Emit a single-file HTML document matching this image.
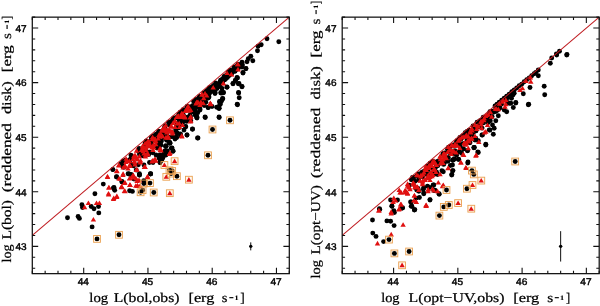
<!DOCTYPE html>
<html><head><meta charset="utf-8"><title>chart</title>
<style>html,body{margin:0;padding:0;background:#fff;width:600px;height:306px;overflow:hidden}body{position:relative;font-family:"Liberation Serif",serif}</style></head>
<body>
<svg width="600" height="306" viewBox="0 0 600 306" style="position:absolute;left:0;top:0;will-change:transform;text-rendering:geometricPrecision">
<rect width="600" height="306" fill="#fff"/>
<rect x="93.6" y="235.5" width="6.8" height="6.8" fill="#fff8ee"/>
<rect x="115.6" y="231.4" width="6.8" height="6.8" fill="#fff8ee"/>
<rect x="140.5" y="180.1" width="6.8" height="6.8" fill="#fff8ee"/>
<rect x="146.6" y="179.7" width="6.8" height="6.8" fill="#fff8ee"/>
<rect x="139.2" y="186.8" width="6.8" height="6.8" fill="#fff8ee"/>
<rect x="137.2" y="188.9" width="6.8" height="6.8" fill="#fff8ee"/>
<rect x="150.3" y="189.1" width="6.8" height="6.8" fill="#fff8ee"/>
<rect x="173.5" y="172.8" width="6.8" height="6.8" fill="#fff8ee"/>
<rect x="166.1" y="166.9" width="6.8" height="6.8" fill="#fff8ee"/>
<rect x="168.8" y="167.6" width="6.8" height="6.8" fill="#fff8ee"/>
<rect x="167.6" y="170.2" width="6.8" height="6.8" fill="#fff8ee"/>
<rect x="204.6" y="151.9" width="6.8" height="6.8" fill="#fff8ee"/>
<rect x="209.1" y="126.1" width="6.8" height="6.8" fill="#fff8ee"/>
<rect x="226.6" y="116.9" width="6.8" height="6.8" fill="#fff8ee"/>
<rect x="171.2" y="157.8" width="6.8" height="6.8" fill="#fff8ee"/>
<rect x="161.0" y="161.6" width="6.8" height="6.8" fill="#fff8ee"/>
<rect x="162.9" y="173.4" width="6.8" height="6.8" fill="#fff8ee"/>
<rect x="185.5" y="176.3" width="6.8" height="6.8" fill="#fff8ee"/>
<rect x="166.4" y="189.8" width="6.8" height="6.8" fill="#fff8ee"/>
<path d="M235.3 71.5L240.7 71.5L238.0 66.9Z" fill="#e01010"/>
<path d="M224.4 74.6L229.8 74.6L227.1 70.0Z" fill="#e01010"/>
<path d="M228.8 76.5L234.2 76.5L231.5 71.9Z" fill="#e01010"/>
<path d="M220.8 85.5L226.2 85.5L223.5 80.9Z" fill="#e01010"/>
<path d="M199.7 95.5L205.1 95.5L202.4 90.9Z" fill="#e01010"/>
<circle cx="125.7" cy="160.2" r="2.45" fill="#000"/>
<circle cx="130.9" cy="155.1" r="2.45" fill="#000"/>
<circle cx="130.7" cy="158.8" r="2.45" fill="#000"/>
<circle cx="123.8" cy="167.2" r="2.45" fill="#000"/>
<circle cx="122.8" cy="166.7" r="2.45" fill="#000"/>
<circle cx="121.1" cy="163.6" r="2.45" fill="#000"/>
<circle cx="133.4" cy="165.9" r="2.45" fill="#000"/>
<circle cx="122.7" cy="163.6" r="2.45" fill="#000"/>
<circle cx="138.3" cy="164.7" r="2.45" fill="#000"/>
<circle cx="131.7" cy="158.5" r="2.45" fill="#000"/>
<circle cx="151.4" cy="137.6" r="2.45" fill="#000"/>
<circle cx="151.1" cy="140.8" r="2.45" fill="#000"/>
<circle cx="139.2" cy="148.5" r="2.45" fill="#000"/>
<circle cx="148.7" cy="154.6" r="2.45" fill="#000"/>
<circle cx="143.8" cy="152.8" r="2.45" fill="#000"/>
<circle cx="148.5" cy="144.4" r="2.45" fill="#000"/>
<circle cx="145.1" cy="143.1" r="2.45" fill="#000"/>
<circle cx="138.5" cy="150.2" r="2.45" fill="#000"/>
<circle cx="149.7" cy="144.5" r="2.45" fill="#000"/>
<circle cx="145.9" cy="151.1" r="2.45" fill="#000"/>
<circle cx="145.1" cy="146.0" r="2.45" fill="#000"/>
<circle cx="154.4" cy="146.6" r="2.45" fill="#000"/>
<circle cx="144.7" cy="151.9" r="2.45" fill="#000"/>
<circle cx="152.7" cy="152.8" r="2.45" fill="#000"/>
<circle cx="149.2" cy="142.4" r="2.45" fill="#000"/>
<circle cx="151.8" cy="137.9" r="2.45" fill="#000"/>
<circle cx="149.5" cy="152.3" r="2.45" fill="#000"/>
<circle cx="142.4" cy="151.9" r="2.45" fill="#000"/>
<circle cx="142.7" cy="155.8" r="2.45" fill="#000"/>
<circle cx="152.5" cy="145.2" r="2.45" fill="#000"/>
<circle cx="151.6" cy="140.8" r="2.45" fill="#000"/>
<circle cx="151.7" cy="146.4" r="2.45" fill="#000"/>
<circle cx="166.2" cy="130.7" r="2.45" fill="#000"/>
<circle cx="177.0" cy="133.0" r="2.45" fill="#000"/>
<circle cx="166.2" cy="135.0" r="2.45" fill="#000"/>
<circle cx="158.4" cy="142.6" r="2.45" fill="#000"/>
<circle cx="173.8" cy="137.0" r="2.45" fill="#000"/>
<circle cx="169.5" cy="124.9" r="2.45" fill="#000"/>
<circle cx="164.5" cy="136.6" r="2.45" fill="#000"/>
<circle cx="155.1" cy="140.2" r="2.45" fill="#000"/>
<circle cx="155.4" cy="134.7" r="2.45" fill="#000"/>
<circle cx="159.1" cy="143.5" r="2.45" fill="#000"/>
<circle cx="155.4" cy="136.3" r="2.45" fill="#000"/>
<circle cx="167.1" cy="139.4" r="2.45" fill="#000"/>
<circle cx="156.1" cy="139.1" r="2.45" fill="#000"/>
<circle cx="170.4" cy="136.9" r="2.45" fill="#000"/>
<circle cx="175.6" cy="132.0" r="2.45" fill="#000"/>
<circle cx="159.7" cy="135.3" r="2.45" fill="#000"/>
<circle cx="166.6" cy="140.2" r="2.45" fill="#000"/>
<circle cx="171.4" cy="121.5" r="2.45" fill="#000"/>
<circle cx="156.2" cy="135.4" r="2.45" fill="#000"/>
<circle cx="159.5" cy="136.9" r="2.45" fill="#000"/>
<circle cx="164.7" cy="128.6" r="2.45" fill="#000"/>
<circle cx="154.3" cy="140.0" r="2.45" fill="#000"/>
<circle cx="163.0" cy="135.5" r="2.45" fill="#000"/>
<circle cx="176.1" cy="127.3" r="2.45" fill="#000"/>
<circle cx="166.5" cy="133.7" r="2.45" fill="#000"/>
<circle cx="165.3" cy="125.8" r="2.45" fill="#000"/>
<circle cx="176.1" cy="129.4" r="2.45" fill="#000"/>
<circle cx="175.8" cy="130.1" r="2.45" fill="#000"/>
<circle cx="161.9" cy="133.2" r="2.45" fill="#000"/>
<circle cx="158.5" cy="140.9" r="2.45" fill="#000"/>
<circle cx="153.1" cy="136.3" r="2.45" fill="#000"/>
<circle cx="156.5" cy="134.3" r="2.45" fill="#000"/>
<circle cx="158.6" cy="131.5" r="2.45" fill="#000"/>
<circle cx="152.2" cy="137.8" r="2.45" fill="#000"/>
<circle cx="155.8" cy="137.8" r="2.45" fill="#000"/>
<circle cx="159.8" cy="145.7" r="2.45" fill="#000"/>
<circle cx="164.5" cy="127.3" r="2.45" fill="#000"/>
<circle cx="158.6" cy="135.1" r="2.45" fill="#000"/>
<circle cx="159.4" cy="131.4" r="2.45" fill="#000"/>
<circle cx="177.9" cy="133.6" r="2.45" fill="#000"/>
<circle cx="183.5" cy="115.2" r="2.45" fill="#000"/>
<circle cx="173.6" cy="119.0" r="2.45" fill="#000"/>
<circle cx="179.5" cy="115.5" r="2.45" fill="#000"/>
<circle cx="188.7" cy="106.7" r="2.45" fill="#000"/>
<circle cx="179.0" cy="127.8" r="2.45" fill="#000"/>
<circle cx="182.7" cy="111.7" r="2.45" fill="#000"/>
<circle cx="182.6" cy="111.0" r="2.45" fill="#000"/>
<circle cx="189.4" cy="119.6" r="2.45" fill="#000"/>
<circle cx="193.2" cy="110.6" r="2.45" fill="#000"/>
<circle cx="178.5" cy="117.7" r="2.45" fill="#000"/>
<circle cx="180.0" cy="123.2" r="2.45" fill="#000"/>
<circle cx="187.4" cy="117.1" r="2.45" fill="#000"/>
<circle cx="179.1" cy="115.5" r="2.45" fill="#000"/>
<circle cx="195.1" cy="114.9" r="2.45" fill="#000"/>
<circle cx="194.1" cy="112.0" r="2.45" fill="#000"/>
<circle cx="192.7" cy="111.8" r="2.45" fill="#000"/>
<circle cx="179.0" cy="119.5" r="2.45" fill="#000"/>
<circle cx="178.8" cy="114.2" r="2.45" fill="#000"/>
<circle cx="173.3" cy="121.0" r="2.45" fill="#000"/>
<circle cx="181.1" cy="120.8" r="2.45" fill="#000"/>
<circle cx="193.0" cy="106.5" r="2.45" fill="#000"/>
<circle cx="197.7" cy="112.8" r="2.45" fill="#000"/>
<circle cx="192.4" cy="105.9" r="2.45" fill="#000"/>
<circle cx="176.9" cy="117.4" r="2.45" fill="#000"/>
<circle cx="176.3" cy="117.6" r="2.45" fill="#000"/>
<circle cx="190.5" cy="117.0" r="2.45" fill="#000"/>
<circle cx="190.9" cy="108.8" r="2.45" fill="#000"/>
<circle cx="190.0" cy="115.3" r="2.45" fill="#000"/>
<circle cx="177.3" cy="123.4" r="2.45" fill="#000"/>
<circle cx="195.0" cy="110.7" r="2.45" fill="#000"/>
<circle cx="189.1" cy="110.3" r="2.45" fill="#000"/>
<circle cx="180.4" cy="123.2" r="2.45" fill="#000"/>
<circle cx="183.6" cy="120.7" r="2.45" fill="#000"/>
<circle cx="193.0" cy="105.8" r="2.45" fill="#000"/>
<circle cx="186.5" cy="121.4" r="2.45" fill="#000"/>
<circle cx="186.7" cy="108.5" r="2.45" fill="#000"/>
<circle cx="174.7" cy="118.5" r="2.45" fill="#000"/>
<circle cx="195.1" cy="111.1" r="2.45" fill="#000"/>
<circle cx="180.1" cy="124.2" r="2.45" fill="#000"/>
<circle cx="195.2" cy="108.2" r="2.45" fill="#000"/>
<circle cx="199.1" cy="101.3" r="2.45" fill="#000"/>
<circle cx="193.7" cy="101.5" r="2.45" fill="#000"/>
<circle cx="209.1" cy="94.2" r="2.45" fill="#000"/>
<circle cx="204.5" cy="102.3" r="2.45" fill="#000"/>
<circle cx="202.6" cy="102.9" r="2.45" fill="#000"/>
<circle cx="204.6" cy="93.3" r="2.45" fill="#000"/>
<circle cx="196.3" cy="101.0" r="2.45" fill="#000"/>
<circle cx="197.7" cy="103.0" r="2.45" fill="#000"/>
<circle cx="197.0" cy="101.6" r="2.45" fill="#000"/>
<circle cx="198.4" cy="107.1" r="2.45" fill="#000"/>
<circle cx="198.7" cy="100.7" r="2.45" fill="#000"/>
<circle cx="205.1" cy="101.3" r="2.45" fill="#000"/>
<circle cx="202.8" cy="103.5" r="2.45" fill="#000"/>
<circle cx="201.3" cy="99.3" r="2.45" fill="#000"/>
<circle cx="199.5" cy="96.5" r="2.45" fill="#000"/>
<circle cx="198.7" cy="98.1" r="2.45" fill="#000"/>
<circle cx="195.6" cy="107.7" r="2.45" fill="#000"/>
<circle cx="196.0" cy="103.1" r="2.45" fill="#000"/>
<circle cx="204.8" cy="96.6" r="2.45" fill="#000"/>
<circle cx="198.6" cy="101.4" r="2.45" fill="#000"/>
<circle cx="203.8" cy="100.6" r="2.45" fill="#000"/>
<circle cx="195.6" cy="104.5" r="2.45" fill="#000"/>
<circle cx="196.2" cy="101.0" r="2.45" fill="#000"/>
<circle cx="205.2" cy="95.7" r="2.45" fill="#000"/>
<circle cx="226.8" cy="76.6" r="2.45" fill="#000"/>
<circle cx="237.4" cy="65.7" r="2.45" fill="#000"/>
<circle cx="227.7" cy="74.3" r="2.45" fill="#000"/>
<circle cx="225.0" cy="77.8" r="2.45" fill="#000"/>
<circle cx="222.5" cy="78.9" r="2.45" fill="#000"/>
<circle cx="224.8" cy="79.8" r="2.45" fill="#000"/>
<circle cx="231.8" cy="73.3" r="2.45" fill="#000"/>
<circle cx="238.0" cy="64.3" r="2.45" fill="#000"/>
<circle cx="227.4" cy="77.5" r="2.45" fill="#000"/>
<circle cx="234.4" cy="66.9" r="2.45" fill="#000"/>
<circle cx="211.3" cy="87.8" r="2.45" fill="#000"/>
<circle cx="209.3" cy="88.6" r="2.45" fill="#000"/>
<circle cx="210.4" cy="90.0" r="2.45" fill="#000"/>
<circle cx="234.7" cy="71.0" r="2.45" fill="#000"/>
<circle cx="213.3" cy="87.9" r="2.45" fill="#000"/>
<circle cx="228.5" cy="72.0" r="2.45" fill="#000"/>
<circle cx="238.2" cy="68.6" r="2.45" fill="#000"/>
<circle cx="216.3" cy="87.1" r="2.45" fill="#000"/>
<circle cx="220.6" cy="80.2" r="2.45" fill="#000"/>
<circle cx="241.2" cy="65.0" r="2.45" fill="#000"/>
<circle cx="212.6" cy="86.7" r="2.45" fill="#000"/>
<circle cx="224.1" cy="76.5" r="2.45" fill="#000"/>
<circle cx="213.5" cy="85.4" r="2.45" fill="#000"/>
<circle cx="230.4" cy="70.1" r="2.45" fill="#000"/>
<circle cx="225.6" cy="75.7" r="2.45" fill="#000"/>
<circle cx="207.7" cy="90.4" r="2.45" fill="#000"/>
<circle cx="228.1" cy="74.0" r="2.45" fill="#000"/>
<circle cx="211.3" cy="91.6" r="2.45" fill="#000"/>
<circle cx="235.1" cy="71.2" r="2.45" fill="#000"/>
<circle cx="210.4" cy="87.8" r="2.45" fill="#000"/>
<circle cx="209.7" cy="91.3" r="2.45" fill="#000"/>
<circle cx="215.6" cy="82.9" r="2.45" fill="#000"/>
<circle cx="222.8" cy="81.2" r="2.45" fill="#000"/>
<circle cx="233.9" cy="67.8" r="2.45" fill="#000"/>
<circle cx="213.8" cy="88.9" r="2.45" fill="#000"/>
<circle cx="226.9" cy="76.2" r="2.45" fill="#000"/>
<circle cx="209.5" cy="87.8" r="2.45" fill="#000"/>
<circle cx="230.0" cy="71.9" r="2.45" fill="#000"/>
<circle cx="211.4" cy="91.1" r="2.45" fill="#000"/>
<circle cx="229.4" cy="74.8" r="2.45" fill="#000"/>
<circle cx="67.5" cy="217.8" r="2.45" fill="#000"/>
<circle cx="78.1" cy="216.5" r="2.45" fill="#000"/>
<circle cx="79.4" cy="218.4" r="2.45" fill="#000"/>
<circle cx="81.9" cy="204.8" r="2.45" fill="#000"/>
<circle cx="82.5" cy="207.5" r="2.45" fill="#000"/>
<circle cx="91.2" cy="206.5" r="2.45" fill="#000"/>
<circle cx="94.0" cy="208.8" r="2.45" fill="#000"/>
<circle cx="98.5" cy="206.5" r="2.45" fill="#000"/>
<circle cx="98.8" cy="212.9" r="2.45" fill="#000"/>
<circle cx="92.1" cy="226.9" r="2.45" fill="#000"/>
<circle cx="94.9" cy="193.7" r="2.45" fill="#000"/>
<circle cx="103.3" cy="184.1" r="2.45" fill="#000"/>
<circle cx="113.4" cy="188.0" r="2.45" fill="#000"/>
<circle cx="114.7" cy="190.2" r="2.45" fill="#000"/>
<circle cx="129.6" cy="190.7" r="2.45" fill="#000"/>
<circle cx="132.4" cy="191.4" r="2.45" fill="#000"/>
<circle cx="112.9" cy="169.6" r="2.45" fill="#000"/>
<circle cx="116.6" cy="176.8" r="2.45" fill="#000"/>
<circle cx="121.9" cy="181.9" r="2.45" fill="#000"/>
<circle cx="128.1" cy="173.8" r="2.45" fill="#000"/>
<circle cx="131.0" cy="174.5" r="2.45" fill="#000"/>
<circle cx="139.4" cy="175.0" r="2.45" fill="#000"/>
<circle cx="150.6" cy="173.9" r="2.45" fill="#000"/>
<circle cx="136.2" cy="170.0" r="2.45" fill="#000"/>
<circle cx="170.0" cy="142.8" r="2.45" fill="#000"/>
<circle cx="166.2" cy="146.2" r="2.45" fill="#000"/>
<circle cx="171.9" cy="148.1" r="2.45" fill="#000"/>
<circle cx="173.1" cy="151.2" r="2.45" fill="#000"/>
<circle cx="163.8" cy="153.8" r="2.45" fill="#000"/>
<circle cx="160.6" cy="156.2" r="2.45" fill="#000"/>
<circle cx="160.0" cy="158.8" r="2.45" fill="#000"/>
<circle cx="160.0" cy="162.5" r="2.45" fill="#000"/>
<circle cx="163.0" cy="157.5" r="2.45" fill="#000"/>
<circle cx="150.6" cy="173.8" r="2.45" fill="#000"/>
<circle cx="139.4" cy="173.8" r="2.45" fill="#000"/>
<circle cx="167.5" cy="151.0" r="2.45" fill="#000"/>
<circle cx="166.0" cy="155.0" r="2.45" fill="#000"/>
<circle cx="237.5" cy="104.7" r="2.45" fill="#000"/>
<circle cx="219.2" cy="108.3" r="2.45" fill="#000"/>
<circle cx="219.2" cy="117.5" r="2.45" fill="#000"/>
<circle cx="205.3" cy="117.5" r="2.45" fill="#000"/>
<circle cx="196.7" cy="117.5" r="2.45" fill="#000"/>
<circle cx="192.5" cy="129.2" r="2.45" fill="#000"/>
<circle cx="197.5" cy="138.0" r="2.45" fill="#000"/>
<circle cx="187.0" cy="135.0" r="2.45" fill="#000"/>
<circle cx="185.8" cy="126.7" r="2.45" fill="#000"/>
<circle cx="180.8" cy="135.8" r="2.45" fill="#000"/>
<circle cx="176.7" cy="137.5" r="2.45" fill="#000"/>
<circle cx="170.0" cy="143.3" r="2.45" fill="#000"/>
<circle cx="165.8" cy="145.8" r="2.45" fill="#000"/>
<circle cx="171.3" cy="148.3" r="2.45" fill="#000"/>
<circle cx="208.3" cy="107.5" r="2.45" fill="#000"/>
<circle cx="200.0" cy="110.0" r="2.45" fill="#000"/>
<circle cx="195.0" cy="112.5" r="2.45" fill="#000"/>
<circle cx="220.0" cy="102.5" r="2.45" fill="#000"/>
<circle cx="221.7" cy="100.8" r="2.45" fill="#000"/>
<circle cx="190.8" cy="120.8" r="2.45" fill="#000"/>
<circle cx="278.8" cy="41.7" r="2.45" fill="#000"/>
<circle cx="267.0" cy="38.8" r="2.45" fill="#000"/>
<circle cx="261.2" cy="44.7" r="2.45" fill="#000"/>
<circle cx="258.1" cy="46.3" r="2.45" fill="#000"/>
<circle cx="257.5" cy="50.8" r="2.45" fill="#000"/>
<circle cx="250.8" cy="56.3" r="2.45" fill="#000"/>
<circle cx="248.3" cy="58.7" r="2.45" fill="#000"/>
<circle cx="252.8" cy="60.8" r="2.45" fill="#000"/>
<circle cx="247.0" cy="61.7" r="2.45" fill="#000"/>
<circle cx="242.0" cy="62.2" r="2.45" fill="#000"/>
<circle cx="242.5" cy="65.0" r="2.45" fill="#000"/>
<circle cx="240.0" cy="65.5" r="2.45" fill="#000"/>
<circle cx="245.8" cy="68.8" r="2.45" fill="#000"/>
<circle cx="243.0" cy="73.0" r="2.45" fill="#000"/>
<circle cx="237.5" cy="78.0" r="2.45" fill="#000"/>
<circle cx="235.3" cy="80.5" r="2.45" fill="#000"/>
<circle cx="233.0" cy="83.8" r="2.45" fill="#000"/>
<circle cx="238.3" cy="83.8" r="2.45" fill="#000"/>
<circle cx="242.0" cy="86.7" r="2.45" fill="#000"/>
<circle cx="238.7" cy="93.0" r="2.45" fill="#000"/>
<circle cx="239.2" cy="97.7" r="2.45" fill="#000"/>
<circle cx="237.2" cy="104.3" r="2.45" fill="#000"/>
<circle cx="227.0" cy="87.2" r="2.45" fill="#000"/>
<circle cx="223.3" cy="92.7" r="2.45" fill="#000"/>
<circle cx="220.8" cy="93.0" r="2.45" fill="#000"/>
<circle cx="215.0" cy="92.7" r="2.45" fill="#000"/>
<circle cx="222.8" cy="98.8" r="2.45" fill="#000"/>
<circle cx="220.0" cy="101.7" r="2.45" fill="#000"/>
<circle cx="219.7" cy="104.7" r="2.45" fill="#000"/>
<circle cx="216.7" cy="107.2" r="2.45" fill="#000"/>
<circle cx="235.0" cy="68.8" r="2.45" fill="#000"/>
<circle cx="231.7" cy="72.2" r="2.45" fill="#000"/>
<circle cx="229.2" cy="75.5" r="2.45" fill="#000"/>
<circle cx="225.8" cy="78.8" r="2.45" fill="#000"/>
<circle cx="222.5" cy="81.3" r="2.45" fill="#000"/>
<circle cx="219.2" cy="84.7" r="2.45" fill="#000"/>
<circle cx="216.7" cy="86.3" r="2.45" fill="#000"/>
<circle cx="213.3" cy="88.8" r="2.45" fill="#000"/>
<circle cx="210.0" cy="91.3" r="2.45" fill="#000"/>
<circle cx="207.5" cy="93.8" r="2.45" fill="#000"/>
<circle cx="208.3" cy="98.0" r="2.45" fill="#000"/>
<circle cx="205.8" cy="102.2" r="2.45" fill="#000"/>
<circle cx="204.2" cy="105.5" r="2.45" fill="#000"/>
<circle cx="112.8" cy="169.6" r="2.45" fill="#000"/>
<circle cx="116.5" cy="177.0" r="2.45" fill="#000"/>
<circle cx="114.0" cy="187.5" r="2.45" fill="#000"/>
<circle cx="129.0" cy="174.0" r="2.45" fill="#000"/>
<circle cx="131.5" cy="175.0" r="2.45" fill="#000"/>
<circle cx="139.5" cy="175.0" r="2.45" fill="#000"/>
<circle cx="150.5" cy="174.0" r="2.45" fill="#000"/>
<circle cx="122.0" cy="181.5" r="2.45" fill="#000"/>
<circle cx="134.0" cy="179.0" r="2.45" fill="#000"/>
<circle cx="149.5" cy="162.5" r="2.45" fill="#000"/>
<circle cx="153.0" cy="162.5" r="2.45" fill="#000"/>
<circle cx="160.0" cy="162.5" r="2.45" fill="#000"/>
<circle cx="144.0" cy="165.0" r="2.45" fill="#000"/>
<circle cx="132.0" cy="164.5" r="2.45" fill="#000"/>
<circle cx="146.3" cy="141.1" r="2.45" fill="#000"/>
<circle cx="153.0" cy="137.5" r="2.45" fill="#000"/>
<circle cx="169.5" cy="143.0" r="2.45" fill="#000"/>
<circle cx="165.5" cy="146.5" r="2.45" fill="#000"/>
<circle cx="172.0" cy="148.0" r="2.45" fill="#000"/>
<circle cx="173.0" cy="151.0" r="2.45" fill="#000"/>
<circle cx="158.0" cy="144.0" r="2.45" fill="#000"/>
<circle cx="161.0" cy="145.0" r="2.45" fill="#000"/>
<circle cx="157.0" cy="148.0" r="2.45" fill="#000"/>
<circle cx="165.0" cy="151.0" r="2.45" fill="#000"/>
<circle cx="167.0" cy="152.5" r="2.45" fill="#000"/>
<circle cx="160.0" cy="155.0" r="2.45" fill="#000"/>
<circle cx="163.0" cy="156.0" r="2.45" fill="#000"/>
<circle cx="159.0" cy="158.0" r="2.45" fill="#000"/>
<circle cx="162.0" cy="159.5" r="2.45" fill="#000"/>
<circle cx="156.0" cy="155.0" r="2.45" fill="#000"/>
<circle cx="160.0" cy="162.0" r="2.45" fill="#000"/>
<circle cx="138.5" cy="151.5" r="2.45" fill="#000"/>
<circle cx="139.5" cy="154.5" r="2.45" fill="#000"/>
<circle cx="130.0" cy="160.0" r="2.45" fill="#000"/>
<circle cx="123.0" cy="161.0" r="2.45" fill="#000"/>
<circle cx="175.0" cy="139.0" r="2.45" fill="#000"/>
<circle cx="164.0" cy="137.5" r="2.45" fill="#000"/>
<circle cx="197.0" cy="118.0" r="2.45" fill="#000"/>
<circle cx="192.5" cy="129.0" r="2.45" fill="#000"/>
<circle cx="198.0" cy="138.0" r="2.45" fill="#000"/>
<circle cx="187.0" cy="135.0" r="2.45" fill="#000"/>
<circle cx="185.5" cy="126.5" r="2.45" fill="#000"/>
<circle cx="184.0" cy="130.0" r="2.45" fill="#000"/>
<circle cx="183.0" cy="122.0" r="2.45" fill="#000"/>
<circle cx="180.5" cy="134.0" r="2.45" fill="#000"/>
<circle cx="176.0" cy="137.5" r="2.45" fill="#000"/>
<circle cx="169.5" cy="142.5" r="2.45" fill="#000"/>
<circle cx="168.7" cy="122.2" r="2.45" fill="#000"/>
<circle cx="153.0" cy="136.5" r="2.45" fill="#000"/>
<circle cx="146.5" cy="141.0" r="2.45" fill="#000"/>
<circle cx="164.0" cy="135.0" r="2.45" fill="#000"/>
<circle cx="161.5" cy="141.0" r="2.45" fill="#000"/>
<circle cx="173.0" cy="120.0" r="2.45" fill="#000"/>
<circle cx="187.0" cy="120.0" r="2.45" fill="#000"/>
<circle cx="207.0" cy="91.0" r="2.45" fill="#000"/>
<circle cx="211.0" cy="90.5" r="2.45" fill="#000"/>
<circle cx="215.0" cy="93.5" r="2.45" fill="#000"/>
<circle cx="222.0" cy="93.0" r="2.45" fill="#000"/>
<circle cx="209.0" cy="97.0" r="2.45" fill="#000"/>
<circle cx="222.5" cy="98.5" r="2.45" fill="#000"/>
<circle cx="219.5" cy="101.5" r="2.45" fill="#000"/>
<circle cx="220.5" cy="104.0" r="2.45" fill="#000"/>
<circle cx="219.0" cy="108.5" r="2.45" fill="#000"/>
<circle cx="212.0" cy="106.5" r="2.45" fill="#000"/>
<circle cx="208.0" cy="107.5" r="2.45" fill="#000"/>
<circle cx="205.0" cy="100.0" r="2.45" fill="#000"/>
<circle cx="200.0" cy="109.0" r="2.45" fill="#000"/>
<circle cx="196.0" cy="99.5" r="2.45" fill="#000"/>
<circle cx="194.0" cy="109.0" r="2.45" fill="#000"/>
<circle cx="192.0" cy="111.0" r="2.45" fill="#000"/>
<circle cx="197.0" cy="117.0" r="2.45" fill="#000"/>
<circle cx="205.0" cy="117.0" r="2.45" fill="#000"/>
<circle cx="219.0" cy="117.0" r="2.45" fill="#000"/>
<circle cx="183.2" cy="109.8" r="2.45" fill="#000"/>
<circle cx="187.1" cy="106.5" r="2.45" fill="#000"/>
<circle cx="180.3" cy="112.3" r="2.45" fill="#000"/>
<circle cx="173.7" cy="117.9" r="2.45" fill="#000"/>
<circle cx="246.0" cy="68.5" r="2.45" fill="#000"/>
<circle cx="243.0" cy="72.5" r="2.45" fill="#000"/>
<circle cx="242.0" cy="67.0" r="2.45" fill="#000"/>
<circle cx="234.0" cy="70.0" r="2.45" fill="#000"/>
<circle cx="237.0" cy="77.5" r="2.45" fill="#000"/>
<circle cx="235.5" cy="80.5" r="2.45" fill="#000"/>
<circle cx="233.0" cy="83.5" r="2.45" fill="#000"/>
<circle cx="239.0" cy="83.5" r="2.45" fill="#000"/>
<circle cx="242.0" cy="86.5" r="2.45" fill="#000"/>
<circle cx="227.0" cy="87.0" r="2.45" fill="#000"/>
<circle cx="238.5" cy="92.5" r="2.45" fill="#000"/>
<circle cx="223.5" cy="92.5" r="2.45" fill="#000"/>
<circle cx="221.0" cy="92.5" r="2.45" fill="#000"/>
<circle cx="215.0" cy="92.0" r="2.45" fill="#000"/>
<circle cx="232.0" cy="71.0" r="2.45" fill="#000"/>
<circle cx="230.0" cy="73.5" r="2.45" fill="#000"/>
<circle cx="228.0" cy="76.0" r="2.45" fill="#000"/>
<circle cx="226.0" cy="77.5" r="2.45" fill="#000"/>
<circle cx="224.0" cy="79.0" r="2.45" fill="#000"/>
<circle cx="222.0" cy="80.5" r="2.45" fill="#000"/>
<circle cx="220.0" cy="82.0" r="2.45" fill="#000"/>
<circle cx="218.0" cy="84.0" r="2.45" fill="#000"/>
<circle cx="216.0" cy="85.5" r="2.45" fill="#000"/>
<circle cx="214.0" cy="86.5" r="2.45" fill="#000"/>
<circle cx="212.0" cy="88.0" r="2.45" fill="#000"/>
<circle cx="210.0" cy="89.5" r="2.45" fill="#000"/>
<circle cx="208.0" cy="90.5" r="2.45" fill="#000"/>
<circle cx="206.0" cy="91.5" r="2.45" fill="#000"/>
<circle cx="204.0" cy="93.0" r="2.45" fill="#000"/>
<circle cx="220.0" cy="86.5" r="2.45" fill="#000"/>
<circle cx="217.0" cy="88.5" r="2.45" fill="#000"/>
<circle cx="222.0" cy="88.5" r="2.45" fill="#000"/>
<circle cx="143.8" cy="180.6" r="2.45" fill="#000"/>
<circle cx="97.0" cy="238.9" r="2.45" fill="#000"/>
<circle cx="119.0" cy="234.8" r="2.45" fill="#000"/>
<circle cx="143.9" cy="183.5" r="2.45" fill="#000"/>
<circle cx="150.0" cy="183.1" r="2.45" fill="#000"/>
<circle cx="142.6" cy="190.2" r="2.45" fill="#000"/>
<circle cx="140.6" cy="192.3" r="2.45" fill="#000"/>
<circle cx="153.8" cy="192.5" r="2.45" fill="#000"/>
<circle cx="176.9" cy="176.2" r="2.45" fill="#000"/>
<circle cx="169.5" cy="170.3" r="2.45" fill="#000"/>
<circle cx="172.2" cy="171.0" r="2.45" fill="#000"/>
<circle cx="171.0" cy="173.6" r="2.45" fill="#000"/>
<circle cx="208.0" cy="155.3" r="2.45" fill="#000"/>
<circle cx="212.5" cy="129.5" r="2.45" fill="#000"/>
<circle cx="230.0" cy="120.3" r="2.45" fill="#000"/>
<path d="M131.8 159.2L137.2 159.2L134.5 154.6Z" fill="#e01010"/>
<path d="M139.7 151.3L145.1 151.3L142.4 146.7Z" fill="#e01010"/>
<path d="M133.0 158.5L138.4 158.5L135.7 153.9Z" fill="#e01010"/>
<path d="M126.7 162.9L132.1 162.9L129.4 158.3Z" fill="#e01010"/>
<path d="M136.7 158.4L142.1 158.4L139.4 153.8Z" fill="#e01010"/>
<path d="M123.9 162.9L129.3 162.9L126.6 158.3Z" fill="#e01010"/>
<path d="M127.1 166.8L132.5 166.8L129.8 162.2Z" fill="#e01010"/>
<path d="M133.8 152.7L139.2 152.7L136.5 148.1Z" fill="#e01010"/>
<path d="M165.0 138.5L170.4 138.5L167.7 133.9Z" fill="#e01010"/>
<path d="M155.4 140.5L160.8 140.5L158.1 135.9Z" fill="#e01010"/>
<path d="M142.4 145.3L147.8 145.3L145.1 140.7Z" fill="#e01010"/>
<path d="M149.9 139.1L155.3 139.1L152.6 134.5Z" fill="#e01010"/>
<path d="M143.8 145.6L149.2 145.6L146.5 141.0Z" fill="#e01010"/>
<path d="M141.9 149.8L147.3 149.8L144.6 145.2Z" fill="#e01010"/>
<path d="M153.1 146.3L158.5 146.3L155.8 141.7Z" fill="#e01010"/>
<path d="M152.9 143.0L158.3 143.0L155.6 138.4Z" fill="#e01010"/>
<path d="M152.7 143.6L158.1 143.6L155.4 139.0Z" fill="#e01010"/>
<path d="M149.3 141.3L154.7 141.3L152.0 136.7Z" fill="#e01010"/>
<path d="M165.6 138.6L171.0 138.6L168.3 134.0Z" fill="#e01010"/>
<path d="M159.9 138.2L165.3 138.2L162.6 133.6Z" fill="#e01010"/>
<path d="M146.3 143.4L151.7 143.4L149.0 138.8Z" fill="#e01010"/>
<path d="M145.1 143.2L150.5 143.2L147.8 138.6Z" fill="#e01010"/>
<path d="M156.2 136.9L161.6 136.9L158.9 132.3Z" fill="#e01010"/>
<path d="M157.7 135.4L163.1 135.4L160.4 130.8Z" fill="#e01010"/>
<path d="M182.4 119.4L187.8 119.4L185.1 114.8Z" fill="#e01010"/>
<path d="M159.7 131.5L165.1 131.5L162.4 126.9Z" fill="#e01010"/>
<path d="M179.1 117.5L184.5 117.5L181.8 112.9Z" fill="#e01010"/>
<path d="M180.1 115.8L185.5 115.8L182.8 111.2Z" fill="#e01010"/>
<path d="M163.3 132.8L168.7 132.8L166.0 128.2Z" fill="#e01010"/>
<path d="M175.5 118.6L180.9 118.6L178.2 114.0Z" fill="#e01010"/>
<path d="M162.0 130.6L167.4 130.6L164.7 126.0Z" fill="#e01010"/>
<path d="M181.9 118.6L187.3 118.6L184.6 114.0Z" fill="#e01010"/>
<path d="M162.2 129.7L167.6 129.7L164.9 125.1Z" fill="#e01010"/>
<path d="M161.3 129.3L166.7 129.3L164.0 124.7Z" fill="#e01010"/>
<path d="M175.6 117.9L181.0 117.9L178.3 113.3Z" fill="#e01010"/>
<path d="M172.0 123.3L177.4 123.3L174.7 118.7Z" fill="#e01010"/>
<path d="M166.3 131.5L171.7 131.5L169.0 126.9Z" fill="#e01010"/>
<path d="M164.5 131.9L169.9 131.9L167.2 127.3Z" fill="#e01010"/>
<path d="M182.5 113.0L187.9 113.0L185.2 108.4Z" fill="#e01010"/>
<path d="M184.0 110.9L189.4 110.9L186.7 106.3Z" fill="#e01010"/>
<path d="M201.0 100.2L206.4 100.2L203.7 95.6Z" fill="#e01010"/>
<path d="M188.0 112.0L193.4 112.0L190.7 107.4Z" fill="#e01010"/>
<path d="M202.3 95.4L207.7 95.4L205.0 90.8Z" fill="#e01010"/>
<path d="M210.5 89.5L215.9 89.5L213.2 84.9Z" fill="#e01010"/>
<path d="M81.9 209.2L87.3 209.2L84.6 204.6Z" fill="#e01010"/>
<path d="M85.7 205.1L91.1 205.1L88.4 200.5Z" fill="#e01010"/>
<path d="M93.8 205.1L99.2 205.1L96.5 200.5Z" fill="#e01010"/>
<path d="M96.7 205.1L102.1 205.1L99.4 200.5Z" fill="#e01010"/>
<path d="M90.7 221.6L96.1 221.6L93.4 217.0Z" fill="#e01010"/>
<path d="M110.8 201.0L116.2 201.0L113.5 196.4Z" fill="#e01010"/>
<path d="M113.9 198.9L119.3 198.9L116.6 194.3Z" fill="#e01010"/>
<path d="M105.9 196.4L111.3 196.4L108.6 191.8Z" fill="#e01010"/>
<path d="M104.8 178.9L110.2 178.9L107.5 174.3Z" fill="#e01010"/>
<path d="M114.2 173.2L119.6 173.2L116.9 168.6Z" fill="#e01010"/>
<path d="M116.1 167.6L121.5 167.6L118.8 163.0Z" fill="#e01010"/>
<path d="M106.1 189.5L111.5 189.5L108.8 184.9Z" fill="#e01010"/>
<path d="M105.8 195.5L111.2 195.5L108.5 190.9Z" fill="#e01010"/>
<path d="M111.1 200.1L116.5 200.1L113.8 195.5Z" fill="#e01010"/>
<path d="M114.2 198.2L119.6 198.2L116.9 193.6Z" fill="#e01010"/>
<path d="M117.3 180.8L122.7 180.8L120.0 176.2Z" fill="#e01010"/>
<path d="M119.2 188.9L124.6 188.9L121.9 184.3Z" fill="#e01010"/>
<path d="M122.3 193.2L127.7 193.2L125.0 188.6Z" fill="#e01010"/>
<path d="M120.4 175.8L125.8 175.8L123.1 171.2Z" fill="#e01010"/>
<path d="M122.3 184.5L127.7 184.5L125.0 179.9Z" fill="#e01010"/>
<path d="M127.3 186.8L132.7 186.8L130.0 182.2Z" fill="#e01010"/>
<path d="M134.8 187.6L140.2 187.6L137.5 183.0Z" fill="#e01010"/>
<path d="M127.3 180.1L132.7 180.1L130.0 175.5Z" fill="#e01010"/>
<path d="M131.1 179.5L136.5 179.5L133.8 174.9Z" fill="#e01010"/>
<path d="M135.4 182.0L140.8 182.0L138.1 177.4Z" fill="#e01010"/>
<path d="M144.8 178.9L150.2 178.9L147.5 174.3Z" fill="#e01010"/>
<path d="M142.3 168.9L147.7 168.9L145.0 164.3Z" fill="#e01010"/>
<path d="M118.7 189.3L124.1 189.3L121.4 184.7Z" fill="#e01010"/>
<path d="M121.7 193.0L127.1 193.0L124.4 188.4Z" fill="#e01010"/>
<path d="M127.2 187.0L132.6 187.0L129.9 182.4Z" fill="#e01010"/>
<path d="M122.3 168.7L127.7 168.7L125.0 164.1Z" fill="#e01010"/>
<path d="M130.6 177.0L136.0 177.0L133.3 172.4Z" fill="#e01010"/>
<path d="M133.1 187.8L138.5 187.8L135.8 183.2Z" fill="#e01010"/>
<path d="M137.3 187.8L142.7 187.8L140.0 183.2Z" fill="#e01010"/>
<path d="M139.8 148.2L145.2 148.2L142.5 143.6Z" fill="#e01010"/>
<path d="M143.5 149.5L148.9 149.5L146.2 144.9Z" fill="#e01010"/>
<path d="M147.3 148.2L152.7 148.2L150.0 143.6Z" fill="#e01010"/>
<path d="M151.1 149.5L156.5 149.5L153.8 144.9Z" fill="#e01010"/>
<path d="M140.4 153.2L145.8 153.2L143.1 148.6Z" fill="#e01010"/>
<path d="M144.8 155.1L150.2 155.1L147.5 150.5Z" fill="#e01010"/>
<path d="M142.9 157.0L148.3 157.0L145.6 152.4Z" fill="#e01010"/>
<path d="M157.9 151.4L163.3 151.4L160.6 146.8Z" fill="#e01010"/>
<path d="M167.3 155.1L172.7 155.1L170.0 150.5Z" fill="#e01010"/>
<path d="M149.8 162.6L155.2 162.6L152.5 158.0Z" fill="#e01010"/>
<path d="M152.3 160.8L157.7 160.8L155.0 156.2Z" fill="#e01010"/>
<path d="M141.7 168.9L147.1 168.9L144.4 164.3Z" fill="#e01010"/>
<path d="M133.5 172.0L138.9 172.0L136.2 167.4Z" fill="#e01010"/>
<path d="M132.3 164.5L137.7 164.5L135.0 159.9Z" fill="#e01010"/>
<path d="M131.1 158.2L136.5 158.2L133.8 153.6Z" fill="#e01010"/>
<path d="M137.9 162.6L143.3 162.6L140.6 158.0Z" fill="#e01010"/>
<path d="M134.8 161.4L140.2 161.4L137.5 156.8Z" fill="#e01010"/>
<path d="M208.1 106.2L213.5 106.2L210.8 101.6Z" fill="#e01010"/>
<path d="M200.6 105.3L206.0 105.3L203.3 100.7Z" fill="#e01010"/>
<path d="M194.8 104.5L200.2 104.5L197.5 99.9Z" fill="#e01010"/>
<path d="M197.3 107.0L202.7 107.0L200.0 102.4Z" fill="#e01010"/>
<path d="M184.8 109.5L190.2 109.5L187.5 104.9Z" fill="#e01010"/>
<path d="M186.5 112.8L191.9 112.8L189.2 108.2Z" fill="#e01010"/>
<path d="M188.1 118.7L193.5 118.7L190.8 114.1Z" fill="#e01010"/>
<path d="M188.1 122.8L193.5 122.8L190.8 118.2Z" fill="#e01010"/>
<path d="M179.0 115.3L184.4 115.3L181.7 110.7Z" fill="#e01010"/>
<path d="M175.6 118.7L181.0 118.7L178.3 114.1Z" fill="#e01010"/>
<path d="M172.3 122.8L177.7 122.8L175.0 118.2Z" fill="#e01010"/>
<path d="M176.5 125.3L181.9 125.3L179.2 120.7Z" fill="#e01010"/>
<path d="M179.8 127.0L185.2 127.0L182.5 122.4Z" fill="#e01010"/>
<path d="M169.0 128.7L174.4 128.7L171.7 124.1Z" fill="#e01010"/>
<path d="M168.1 133.7L173.5 133.7L170.8 129.1Z" fill="#e01010"/>
<path d="M164.0 134.5L169.4 134.5L166.7 129.9Z" fill="#e01010"/>
<path d="M160.6 132.8L166.0 132.8L163.3 128.2Z" fill="#e01010"/>
<path d="M157.3 137.0L162.7 137.0L160.0 132.4Z" fill="#e01010"/>
<path d="M163.1 139.5L168.5 139.5L165.8 134.9Z" fill="#e01010"/>
<path d="M179.0 137.8L184.4 137.8L181.7 133.2Z" fill="#e01010"/>
<path d="M152.3 141.2L157.7 141.2L155.0 136.6Z" fill="#e01010"/>
<path d="M150.6 147.0L156.0 147.0L153.3 142.4Z" fill="#e01010"/>
<path d="M157.3 150.3L162.7 150.3L160.0 145.7Z" fill="#e01010"/>
<path d="M156.5 138.3L161.9 138.3L159.2 133.7Z" fill="#e01010"/>
<path d="M165.6 139.5L171.0 139.5L168.3 134.9Z" fill="#e01010"/>
<path d="M169.8 133.7L175.2 133.7L172.5 129.1Z" fill="#e01010"/>
<path d="M167.0 155.0L172.4 155.0L169.7 150.4Z" fill="#e01010"/>
<path d="M157.6 152.0L163.0 152.0L160.3 147.4Z" fill="#e01010"/>
<path d="M153.1 162.8L158.5 162.8L155.8 158.2Z" fill="#e01010"/>
<path d="M234.9 66.3L240.3 66.3L237.6 61.7Z" fill="#e01010"/>
<path d="M235.3 66.3L240.7 66.3L238.0 61.7Z" fill="#e01010"/>
<path d="M235.3 71.3L240.7 71.3L238.0 66.7Z" fill="#e01010"/>
<path d="M224.4 75.1L229.8 75.1L227.1 70.5Z" fill="#e01010"/>
<path d="M228.6 76.3L234.0 76.3L231.3 71.7Z" fill="#e01010"/>
<path d="M220.6 85.3L226.0 85.3L223.3 80.7Z" fill="#e01010"/>
<path d="M199.4 96.4L204.8 96.4L202.1 91.8Z" fill="#e01010"/>
<path d="M204.0 97.5L209.4 97.5L206.7 92.9Z" fill="#e01010"/>
<path d="M194.0 104.2L199.4 104.2L196.7 99.6Z" fill="#e01010"/>
<path d="M198.1 104.2L203.5 104.2L200.8 99.6Z" fill="#e01010"/>
<path d="M207.6 105.0L213.0 105.0L210.3 100.4Z" fill="#e01010"/>
<path d="M116.2 167.0L121.6 167.0L118.9 162.4Z" fill="#e01010"/>
<path d="M114.1 173.0L119.5 173.0L116.8 168.4Z" fill="#e01010"/>
<path d="M104.8 178.5L110.2 178.5L107.5 173.9Z" fill="#e01010"/>
<path d="M120.5 169.5L125.9 169.5L123.2 164.9Z" fill="#e01010"/>
<path d="M122.3 167.5L127.7 167.5L125.0 162.9Z" fill="#e01010"/>
<path d="M123.3 164.0L128.7 164.0L126.0 159.4Z" fill="#e01010"/>
<path d="M125.3 170.5L130.7 170.5L128.0 165.9Z" fill="#e01010"/>
<path d="M127.3 168.0L132.7 168.0L130.0 163.4Z" fill="#e01010"/>
<path d="M132.3 166.5L137.7 166.5L135.0 161.9Z" fill="#e01010"/>
<path d="M131.3 163.5L136.7 163.5L134.0 158.9Z" fill="#e01010"/>
<path d="M134.3 171.5L139.7 171.5L137.0 166.9Z" fill="#e01010"/>
<path d="M137.8 164.5L143.2 164.5L140.5 159.9Z" fill="#e01010"/>
<path d="M142.3 169.0L147.7 169.0L145.0 164.4Z" fill="#e01010"/>
<path d="M120.3 177.0L125.7 177.0L123.0 172.4Z" fill="#e01010"/>
<path d="M116.3 180.5L121.7 180.5L119.0 175.9Z" fill="#e01010"/>
<path d="M121.8 185.0L127.2 185.0L124.5 180.4Z" fill="#e01010"/>
<path d="M126.8 180.5L132.2 180.5L129.5 175.9Z" fill="#e01010"/>
<path d="M129.8 178.0L135.2 178.0L132.5 173.4Z" fill="#e01010"/>
<path d="M133.3 180.5L138.7 180.5L136.0 175.9Z" fill="#e01010"/>
<path d="M134.3 183.0L139.7 183.0L137.0 178.4Z" fill="#e01010"/>
<path d="M136.8 182.5L142.2 182.5L139.5 177.9Z" fill="#e01010"/>
<path d="M127.3 187.0L132.7 187.0L130.0 182.4Z" fill="#e01010"/>
<path d="M134.8 187.8L140.2 187.8L137.5 183.2Z" fill="#e01010"/>
<path d="M118.8 188.5L124.2 188.5L121.5 183.9Z" fill="#e01010"/>
<path d="M106.3 189.5L111.7 189.5L109.0 184.9Z" fill="#e01010"/>
<path d="M144.8 178.5L150.2 178.5L147.5 173.9Z" fill="#e01010"/>
<path d="M123.4 160.8L128.8 160.8L126.1 156.2Z" fill="#e01010"/>
<path d="M124.3 162.5L129.7 162.5L127.0 157.9Z" fill="#e01010"/>
<path d="M132.3 157.0L137.7 157.0L135.0 152.4Z" fill="#e01010"/>
<path d="M130.3 161.0L135.7 161.0L133.0 156.4Z" fill="#e01010"/>
<path d="M134.3 160.5L139.7 160.5L137.0 155.9Z" fill="#e01010"/>
<path d="M137.3 163.5L142.7 163.5L140.0 158.9Z" fill="#e01010"/>
<path d="M140.3 149.0L145.7 149.0L143.0 144.4Z" fill="#e01010"/>
<path d="M138.8 152.0L144.2 152.0L141.5 147.4Z" fill="#e01010"/>
<path d="M144.3 148.0L149.7 148.0L147.0 143.4Z" fill="#e01010"/>
<path d="M147.3 146.5L152.7 146.5L150.0 141.9Z" fill="#e01010"/>
<path d="M149.3 149.5L154.7 149.5L152.0 144.9Z" fill="#e01010"/>
<path d="M143.3 152.0L148.7 152.0L146.0 147.4Z" fill="#e01010"/>
<path d="M141.3 155.5L146.7 155.5L144.0 150.9Z" fill="#e01010"/>
<path d="M145.3 156.5L150.7 156.5L148.0 151.9Z" fill="#e01010"/>
<path d="M142.8 158.5L148.2 158.5L145.5 153.9Z" fill="#e01010"/>
<path d="M150.3 152.0L155.7 152.0L153.0 147.4Z" fill="#e01010"/>
<path d="M152.3 141.5L157.7 141.5L155.0 136.9Z" fill="#e01010"/>
<path d="M157.3 138.5L162.7 138.5L160.0 133.9Z" fill="#e01010"/>
<path d="M165.3 139.5L170.7 139.5L168.0 134.9Z" fill="#e01010"/>
<path d="M158.3 152.5L163.7 152.5L161.0 147.9Z" fill="#e01010"/>
<path d="M166.8 156.0L172.2 156.0L169.5 151.4Z" fill="#e01010"/>
<path d="M151.3 162.5L156.7 162.5L154.0 157.9Z" fill="#e01010"/>
<path d="M149.3 163.5L154.7 163.5L152.0 158.9Z" fill="#e01010"/>
<path d="M173.8 119.0L179.2 119.0L176.5 114.4Z" fill="#e01010"/>
<path d="M178.3 118.5L183.7 118.5L181.0 113.9Z" fill="#e01010"/>
<path d="M187.8 119.5L193.2 119.5L190.5 114.9Z" fill="#e01010"/>
<path d="M187.8 123.5L193.2 123.5L190.5 118.9Z" fill="#e01010"/>
<path d="M170.3 125.0L175.7 125.0L173.0 120.4Z" fill="#e01010"/>
<path d="M174.3 125.5L179.7 125.5L177.0 120.9Z" fill="#e01010"/>
<path d="M176.8 129.0L182.2 129.0L179.5 124.4Z" fill="#e01010"/>
<path d="M172.3 129.0L177.7 129.0L175.0 124.4Z" fill="#e01010"/>
<path d="M163.0 127.3L168.4 127.3L165.7 122.7Z" fill="#e01010"/>
<path d="M168.3 128.0L173.7 128.0L171.0 123.4Z" fill="#e01010"/>
<path d="M159.3 132.0L164.7 132.0L162.0 127.4Z" fill="#e01010"/>
<path d="M162.3 132.0L167.7 132.0L165.0 127.4Z" fill="#e01010"/>
<path d="M168.3 133.0L173.7 133.0L171.0 128.4Z" fill="#e01010"/>
<path d="M169.8 135.5L175.2 135.5L172.5 130.9Z" fill="#e01010"/>
<path d="M156.8 137.5L162.2 137.5L159.5 132.9Z" fill="#e01010"/>
<path d="M164.3 139.5L169.7 139.5L167.0 134.9Z" fill="#e01010"/>
<path d="M152.3 141.0L157.7 141.0L155.0 136.4Z" fill="#e01010"/>
<path d="M179.3 138.5L184.7 138.5L182.0 133.9Z" fill="#e01010"/>
<path d="M145.3 146.0L150.7 146.0L148.0 141.4Z" fill="#e01010"/>
<path d="M199.3 96.5L204.7 96.5L202.0 91.9Z" fill="#e01010"/>
<path d="M195.3 104.0L200.7 104.0L198.0 99.4Z" fill="#e01010"/>
<path d="M198.8 105.0L204.2 105.0L201.5 100.4Z" fill="#e01010"/>
<path d="M193.3 105.5L198.7 105.5L196.0 100.9Z" fill="#e01010"/>
<path d="M207.8 105.5L213.2 105.5L210.5 100.9Z" fill="#e01010"/>
<path d="M185.5 108.2L190.9 108.2L188.2 103.6Z" fill="#e01010"/>
<path d="M185.8 112.0L191.2 112.0L188.5 107.4Z" fill="#e01010"/>
<path d="M175.3 118.0L180.7 118.0L178.0 113.4Z" fill="#e01010"/>
<path d="M178.3 119.0L183.7 119.0L181.0 114.4Z" fill="#e01010"/>
<path d="M187.8 119.0L193.2 119.0L190.5 114.4Z" fill="#e01010"/>
<path d="M171.9 163.2L177.3 163.2L174.6 158.6Z" fill="#e01010"/>
<path d="M161.7 167.0L167.1 167.0L164.4 162.4Z" fill="#e01010"/>
<path d="M163.6 178.8L169.0 178.8L166.3 174.2Z" fill="#e01010"/>
<path d="M186.2 181.7L191.6 181.7L188.9 177.1Z" fill="#e01010"/>
<path d="M167.1 195.2L172.5 195.2L169.8 190.6Z" fill="#e01010"/>
<rect x="93.6" y="235.5" width="6.8" height="6.8" fill="none" stroke="#eaa050" stroke-width="0.9"/>
<rect x="115.6" y="231.4" width="6.8" height="6.8" fill="none" stroke="#eaa050" stroke-width="0.9"/>
<rect x="140.5" y="180.1" width="6.8" height="6.8" fill="none" stroke="#eaa050" stroke-width="0.9"/>
<rect x="146.6" y="179.7" width="6.8" height="6.8" fill="none" stroke="#eaa050" stroke-width="0.9"/>
<rect x="139.2" y="186.8" width="6.8" height="6.8" fill="none" stroke="#eaa050" stroke-width="0.9"/>
<rect x="137.2" y="188.9" width="6.8" height="6.8" fill="none" stroke="#eaa050" stroke-width="0.9"/>
<rect x="150.3" y="189.1" width="6.8" height="6.8" fill="none" stroke="#eaa050" stroke-width="0.9"/>
<rect x="173.5" y="172.8" width="6.8" height="6.8" fill="none" stroke="#eaa050" stroke-width="0.9"/>
<rect x="166.1" y="166.9" width="6.8" height="6.8" fill="none" stroke="#eaa050" stroke-width="0.9"/>
<rect x="168.8" y="167.6" width="6.8" height="6.8" fill="none" stroke="#eaa050" stroke-width="0.9"/>
<rect x="167.6" y="170.2" width="6.8" height="6.8" fill="none" stroke="#eaa050" stroke-width="0.9"/>
<rect x="204.6" y="151.9" width="6.8" height="6.8" fill="none" stroke="#eaa050" stroke-width="0.9"/>
<rect x="209.1" y="126.1" width="6.8" height="6.8" fill="none" stroke="#eaa050" stroke-width="0.9"/>
<rect x="226.6" y="116.9" width="6.8" height="6.8" fill="none" stroke="#eaa050" stroke-width="0.9"/>
<rect x="171.2" y="157.8" width="6.8" height="6.8" fill="none" stroke="#eaa050" stroke-width="0.9"/>
<rect x="161.0" y="161.6" width="6.8" height="6.8" fill="none" stroke="#eaa050" stroke-width="0.9"/>
<rect x="162.9" y="173.4" width="6.8" height="6.8" fill="none" stroke="#eaa050" stroke-width="0.9"/>
<rect x="185.5" y="176.3" width="6.8" height="6.8" fill="none" stroke="#eaa050" stroke-width="0.9"/>
<rect x="166.4" y="189.8" width="6.8" height="6.8" fill="none" stroke="#eaa050" stroke-width="0.9"/>
<line x1="32.30" y1="235.45" x2="289.30" y2="17.15" stroke="#bf1a1f" stroke-width="1.05"/>
<line x1="250.75" y1="242.36" x2="250.75" y2="250.36" stroke="#000" stroke-width="0.95"/>
<circle cx="250.75" cy="246.36" r="1.7" fill="#000"/>
<rect x="32.30" y="17.15" width="257.00" height="256.5" fill="none" stroke="#111" stroke-width="1.25"/>
<path d="M32.30 273.65v-2.9M32.30 17.15v2.9M45.15 273.65v-2.9M45.15 17.15v2.9M58.00 273.65v-2.9M58.00 17.15v2.9M70.85 273.65v-2.9M70.85 17.15v2.9M83.70 273.65v-5.9M83.70 17.15v5.9M96.55 273.65v-2.9M96.55 17.15v2.9M109.40 273.65v-2.9M109.40 17.15v2.9M122.25 273.65v-2.9M122.25 17.15v2.9M135.10 273.65v-2.9M135.10 17.15v2.9M147.95 273.65v-5.9M147.95 17.15v5.9M160.80 273.65v-2.9M160.80 17.15v2.9M173.65 273.65v-2.9M173.65 17.15v2.9M186.50 273.65v-2.9M186.50 17.15v2.9M199.35 273.65v-2.9M199.35 17.15v2.9M212.20 273.65v-5.9M212.20 17.15v5.9M225.05 273.65v-2.9M225.05 17.15v2.9M237.90 273.65v-2.9M237.90 17.15v2.9M250.75 273.65v-2.9M250.75 17.15v2.9M263.60 273.65v-2.9M263.60 17.15v2.9M276.45 273.65v-5.9M276.45 17.15v5.9M289.30 273.65v-2.9M289.30 17.15v2.9M32.30 268.19h2.9M289.30 268.19h-2.9M32.30 257.28h2.9M289.30 257.28h-2.9M32.30 246.36h5.9M289.30 246.36h-5.9M32.30 235.45h2.9M289.30 235.45h-2.9M32.30 224.53h2.9M289.30 224.53h-2.9M32.30 213.62h2.9M289.30 213.62h-2.9M32.30 202.70h2.9M289.30 202.70h-2.9M32.30 191.79h5.9M289.30 191.79h-5.9M32.30 180.87h2.9M289.30 180.87h-2.9M32.30 169.96h2.9M289.30 169.96h-2.9M32.30 159.04h2.9M289.30 159.04h-2.9M32.30 148.13h2.9M289.30 148.13h-2.9M32.30 137.21h5.9M289.30 137.21h-5.9M32.30 126.30h2.9M289.30 126.30h-2.9M32.30 115.38h2.9M289.30 115.38h-2.9M32.30 104.47h2.9M289.30 104.47h-2.9M32.30 93.55h2.9M289.30 93.55h-2.9M32.30 82.64h5.9M289.30 82.64h-5.9M32.30 71.72h2.9M289.30 71.72h-2.9M32.30 60.81h2.9M289.30 60.81h-2.9M32.30 49.89h2.9M289.30 49.89h-2.9M32.30 38.98h2.9M289.30 38.98h-2.9M32.30 28.06h5.9M289.30 28.06h-5.9M32.30 17.15h2.9M289.30 17.15h-2.9" stroke="#111" stroke-width="1.1" fill="none"/>
<text x="77.65" y="285.3" font-size="9.8" textLength="11.3" lengthAdjust="spacingAndGlyphs" stroke="#000" stroke-width="0.4" font-family="Liberation Sans, sans-serif">44</text>
<text x="141.90" y="285.3" font-size="9.8" textLength="11.3" lengthAdjust="spacingAndGlyphs" stroke="#000" stroke-width="0.4" font-family="Liberation Sans, sans-serif">45</text>
<text x="206.15" y="285.3" font-size="9.8" textLength="11.3" lengthAdjust="spacingAndGlyphs" stroke="#000" stroke-width="0.4" font-family="Liberation Sans, sans-serif">46</text>
<text x="270.40" y="285.3" font-size="9.8" textLength="11.3" lengthAdjust="spacingAndGlyphs" stroke="#000" stroke-width="0.4" font-family="Liberation Sans, sans-serif">47</text>
<text x="15.40" y="250.16" font-size="9.8" textLength="11.2" lengthAdjust="spacingAndGlyphs" stroke="#000" stroke-width="0.4" font-family="Liberation Sans, sans-serif">43</text>
<text x="15.40" y="195.59" font-size="9.8" textLength="11.2" lengthAdjust="spacingAndGlyphs" stroke="#000" stroke-width="0.4" font-family="Liberation Sans, sans-serif">44</text>
<text x="15.40" y="141.01" font-size="9.8" textLength="11.2" lengthAdjust="spacingAndGlyphs" stroke="#000" stroke-width="0.4" font-family="Liberation Sans, sans-serif">45</text>
<text x="15.40" y="86.44" font-size="9.8" textLength="11.2" lengthAdjust="spacingAndGlyphs" stroke="#000" stroke-width="0.4" font-family="Liberation Sans, sans-serif">46</text>
<text x="15.40" y="31.86" font-size="9.8" textLength="11.2" lengthAdjust="spacingAndGlyphs" stroke="#000" stroke-width="0.4" font-family="Liberation Sans, sans-serif">47</text>
<rect x="385.6" y="236.2" width="6.8" height="6.8" fill="#fff8ee"/>
<rect x="391.0" y="250.0" width="6.8" height="6.8" fill="#fff8ee"/>
<rect x="405.7" y="248.1" width="6.8" height="6.8" fill="#fff8ee"/>
<rect x="443.1" y="186.6" width="6.8" height="6.8" fill="#fff8ee"/>
<rect x="463.5" y="185.3" width="6.8" height="6.8" fill="#fff8ee"/>
<rect x="440.4" y="203.5" width="6.8" height="6.8" fill="#fff8ee"/>
<rect x="445.4" y="201.6" width="6.8" height="6.8" fill="#fff8ee"/>
<rect x="436.0" y="212.2" width="6.8" height="6.8" fill="#fff8ee"/>
<rect x="468.5" y="167.2" width="6.8" height="6.8" fill="#fff8ee"/>
<rect x="470.4" y="171.0" width="6.8" height="6.8" fill="#fff8ee"/>
<rect x="511.8" y="158.1" width="6.8" height="6.8" fill="#fff8ee"/>
<rect x="398.7" y="261.9" width="6.8" height="6.8" fill="#fff8ee"/>
<rect x="454.7" y="199.7" width="6.8" height="6.8" fill="#fff8ee"/>
<rect x="467.9" y="205.3" width="6.8" height="6.8" fill="#fff8ee"/>
<rect x="469.1" y="181.6" width="6.8" height="6.8" fill="#fff8ee"/>
<rect x="477.9" y="177.2" width="6.8" height="6.8" fill="#fff8ee"/>
<circle cx="415.6" cy="187.7" r="2.45" fill="#000"/>
<circle cx="422.6" cy="176.8" r="2.45" fill="#000"/>
<circle cx="418.0" cy="188.4" r="2.45" fill="#000"/>
<circle cx="426.4" cy="174.3" r="2.45" fill="#000"/>
<circle cx="417.8" cy="176.5" r="2.45" fill="#000"/>
<circle cx="408.9" cy="186.3" r="2.45" fill="#000"/>
<circle cx="418.4" cy="173.9" r="2.45" fill="#000"/>
<circle cx="423.6" cy="171.5" r="2.45" fill="#000"/>
<circle cx="411.3" cy="179.8" r="2.45" fill="#000"/>
<circle cx="432.9" cy="174.3" r="2.45" fill="#000"/>
<circle cx="428.9" cy="174.6" r="2.45" fill="#000"/>
<circle cx="409.1" cy="185.3" r="2.45" fill="#000"/>
<circle cx="416.9" cy="175.7" r="2.45" fill="#000"/>
<circle cx="427.8" cy="170.2" r="2.45" fill="#000"/>
<circle cx="436.6" cy="172.2" r="2.45" fill="#000"/>
<circle cx="437.5" cy="174.5" r="2.45" fill="#000"/>
<circle cx="439.3" cy="163.4" r="2.45" fill="#000"/>
<circle cx="436.4" cy="164.4" r="2.45" fill="#000"/>
<circle cx="430.1" cy="163.3" r="2.45" fill="#000"/>
<circle cx="444.7" cy="153.0" r="2.45" fill="#000"/>
<circle cx="442.8" cy="154.2" r="2.45" fill="#000"/>
<circle cx="453.9" cy="159.6" r="2.45" fill="#000"/>
<circle cx="447.9" cy="161.2" r="2.45" fill="#000"/>
<circle cx="444.0" cy="163.7" r="2.45" fill="#000"/>
<circle cx="431.9" cy="168.1" r="2.45" fill="#000"/>
<circle cx="443.7" cy="153.4" r="2.45" fill="#000"/>
<circle cx="452.9" cy="160.3" r="2.45" fill="#000"/>
<circle cx="436.6" cy="162.0" r="2.45" fill="#000"/>
<circle cx="437.6" cy="161.5" r="2.45" fill="#000"/>
<circle cx="448.5" cy="152.2" r="2.45" fill="#000"/>
<circle cx="427.1" cy="166.3" r="2.45" fill="#000"/>
<circle cx="450.3" cy="165.5" r="2.45" fill="#000"/>
<circle cx="439.6" cy="161.9" r="2.45" fill="#000"/>
<circle cx="443.6" cy="164.4" r="2.45" fill="#000"/>
<circle cx="435.3" cy="168.0" r="2.45" fill="#000"/>
<circle cx="442.2" cy="162.6" r="2.45" fill="#000"/>
<circle cx="430.6" cy="164.1" r="2.45" fill="#000"/>
<circle cx="441.9" cy="170.7" r="2.45" fill="#000"/>
<circle cx="437.7" cy="165.8" r="2.45" fill="#000"/>
<circle cx="432.7" cy="161.6" r="2.45" fill="#000"/>
<circle cx="434.7" cy="173.7" r="2.45" fill="#000"/>
<circle cx="444.1" cy="155.8" r="2.45" fill="#000"/>
<circle cx="467.2" cy="139.4" r="2.45" fill="#000"/>
<circle cx="475.4" cy="138.2" r="2.45" fill="#000"/>
<circle cx="463.5" cy="149.0" r="2.45" fill="#000"/>
<circle cx="473.4" cy="132.6" r="2.45" fill="#000"/>
<circle cx="470.7" cy="133.4" r="2.45" fill="#000"/>
<circle cx="456.3" cy="142.2" r="2.45" fill="#000"/>
<circle cx="468.4" cy="131.1" r="2.45" fill="#000"/>
<circle cx="453.1" cy="153.9" r="2.45" fill="#000"/>
<circle cx="467.9" cy="135.6" r="2.45" fill="#000"/>
<circle cx="467.0" cy="131.4" r="2.45" fill="#000"/>
<circle cx="453.6" cy="145.0" r="2.45" fill="#000"/>
<circle cx="457.0" cy="140.8" r="2.45" fill="#000"/>
<circle cx="449.2" cy="149.3" r="2.45" fill="#000"/>
<circle cx="475.7" cy="138.5" r="2.45" fill="#000"/>
<circle cx="467.1" cy="136.2" r="2.45" fill="#000"/>
<circle cx="459.3" cy="151.9" r="2.45" fill="#000"/>
<circle cx="463.8" cy="143.4" r="2.45" fill="#000"/>
<circle cx="447.5" cy="149.4" r="2.45" fill="#000"/>
<circle cx="472.2" cy="137.5" r="2.45" fill="#000"/>
<circle cx="471.5" cy="134.5" r="2.45" fill="#000"/>
<circle cx="460.0" cy="143.9" r="2.45" fill="#000"/>
<circle cx="468.5" cy="132.6" r="2.45" fill="#000"/>
<circle cx="460.5" cy="139.0" r="2.45" fill="#000"/>
<circle cx="465.2" cy="132.8" r="2.45" fill="#000"/>
<circle cx="470.0" cy="142.7" r="2.45" fill="#000"/>
<circle cx="450.0" cy="152.6" r="2.45" fill="#000"/>
<circle cx="467.9" cy="142.3" r="2.45" fill="#000"/>
<circle cx="461.6" cy="137.8" r="2.45" fill="#000"/>
<circle cx="463.1" cy="148.7" r="2.45" fill="#000"/>
<circle cx="469.0" cy="130.3" r="2.45" fill="#000"/>
<circle cx="448.6" cy="147.3" r="2.45" fill="#000"/>
<circle cx="448.9" cy="151.2" r="2.45" fill="#000"/>
<circle cx="455.5" cy="153.1" r="2.45" fill="#000"/>
<circle cx="462.8" cy="135.6" r="2.45" fill="#000"/>
<circle cx="460.9" cy="139.3" r="2.45" fill="#000"/>
<circle cx="459.1" cy="139.5" r="2.45" fill="#000"/>
<circle cx="450.8" cy="146.3" r="2.45" fill="#000"/>
<circle cx="459.9" cy="146.3" r="2.45" fill="#000"/>
<circle cx="459.9" cy="137.5" r="2.45" fill="#000"/>
<circle cx="469.8" cy="141.1" r="2.45" fill="#000"/>
<circle cx="470.6" cy="138.8" r="2.45" fill="#000"/>
<circle cx="448.6" cy="151.7" r="2.45" fill="#000"/>
<circle cx="452.5" cy="153.6" r="2.45" fill="#000"/>
<circle cx="454.8" cy="150.6" r="2.45" fill="#000"/>
<circle cx="478.8" cy="126.7" r="2.45" fill="#000"/>
<circle cx="477.1" cy="122.3" r="2.45" fill="#000"/>
<circle cx="479.4" cy="122.0" r="2.45" fill="#000"/>
<circle cx="489.6" cy="113.2" r="2.45" fill="#000"/>
<circle cx="482.9" cy="121.5" r="2.45" fill="#000"/>
<circle cx="489.9" cy="111.7" r="2.45" fill="#000"/>
<circle cx="484.6" cy="119.5" r="2.45" fill="#000"/>
<circle cx="490.3" cy="120.8" r="2.45" fill="#000"/>
<circle cx="479.9" cy="125.8" r="2.45" fill="#000"/>
<circle cx="483.4" cy="121.2" r="2.45" fill="#000"/>
<circle cx="475.8" cy="130.9" r="2.45" fill="#000"/>
<circle cx="491.4" cy="112.3" r="2.45" fill="#000"/>
<circle cx="482.1" cy="128.1" r="2.45" fill="#000"/>
<circle cx="473.0" cy="125.9" r="2.45" fill="#000"/>
<circle cx="476.0" cy="130.7" r="2.45" fill="#000"/>
<circle cx="487.5" cy="116.5" r="2.45" fill="#000"/>
<circle cx="483.2" cy="117.1" r="2.45" fill="#000"/>
<circle cx="485.2" cy="118.4" r="2.45" fill="#000"/>
<circle cx="482.4" cy="120.2" r="2.45" fill="#000"/>
<circle cx="479.3" cy="121.4" r="2.45" fill="#000"/>
<circle cx="473.2" cy="128.5" r="2.45" fill="#000"/>
<circle cx="478.7" cy="126.9" r="2.45" fill="#000"/>
<circle cx="490.2" cy="117.4" r="2.45" fill="#000"/>
<circle cx="480.5" cy="120.5" r="2.45" fill="#000"/>
<circle cx="480.2" cy="123.1" r="2.45" fill="#000"/>
<circle cx="488.2" cy="122.5" r="2.45" fill="#000"/>
<circle cx="474.2" cy="128.1" r="2.45" fill="#000"/>
<circle cx="483.7" cy="122.8" r="2.45" fill="#000"/>
<circle cx="492.1" cy="116.6" r="2.45" fill="#000"/>
<circle cx="486.6" cy="120.9" r="2.45" fill="#000"/>
<circle cx="488.2" cy="121.0" r="2.45" fill="#000"/>
<circle cx="487.6" cy="119.1" r="2.45" fill="#000"/>
<circle cx="498.6" cy="108.9" r="2.45" fill="#000"/>
<circle cx="500.5" cy="104.8" r="2.45" fill="#000"/>
<circle cx="511.5" cy="98.3" r="2.45" fill="#000"/>
<circle cx="512.3" cy="91.8" r="2.45" fill="#000"/>
<circle cx="497.9" cy="105.1" r="2.45" fill="#000"/>
<circle cx="499.3" cy="103.2" r="2.45" fill="#000"/>
<circle cx="502.8" cy="100.1" r="2.45" fill="#000"/>
<circle cx="500.0" cy="107.9" r="2.45" fill="#000"/>
<circle cx="507.8" cy="97.6" r="2.45" fill="#000"/>
<circle cx="495.7" cy="111.6" r="2.45" fill="#000"/>
<circle cx="506.3" cy="97.5" r="2.45" fill="#000"/>
<circle cx="499.5" cy="105.9" r="2.45" fill="#000"/>
<circle cx="505.9" cy="98.1" r="2.45" fill="#000"/>
<circle cx="512.0" cy="93.2" r="2.45" fill="#000"/>
<circle cx="498.5" cy="108.3" r="2.45" fill="#000"/>
<circle cx="495.6" cy="109.5" r="2.45" fill="#000"/>
<circle cx="496.3" cy="108.2" r="2.45" fill="#000"/>
<circle cx="497.3" cy="106.0" r="2.45" fill="#000"/>
<circle cx="512.2" cy="93.9" r="2.45" fill="#000"/>
<circle cx="501.6" cy="103.9" r="2.45" fill="#000"/>
<circle cx="496.9" cy="105.3" r="2.45" fill="#000"/>
<circle cx="499.4" cy="103.6" r="2.45" fill="#000"/>
<circle cx="497.5" cy="110.2" r="2.45" fill="#000"/>
<circle cx="493.5" cy="112.3" r="2.45" fill="#000"/>
<circle cx="512.9" cy="95.0" r="2.45" fill="#000"/>
<circle cx="492.0" cy="111.2" r="2.45" fill="#000"/>
<circle cx="372.5" cy="220.0" r="2.45" fill="#000"/>
<circle cx="386.9" cy="220.9" r="2.45" fill="#000"/>
<circle cx="390.6" cy="221.2" r="2.45" fill="#000"/>
<circle cx="394.1" cy="225.6" r="2.45" fill="#000"/>
<circle cx="372.8" cy="233.1" r="2.45" fill="#000"/>
<circle cx="376.0" cy="236.4" r="2.45" fill="#000"/>
<circle cx="383.6" cy="241.6" r="2.45" fill="#000"/>
<circle cx="379.8" cy="209.4" r="2.45" fill="#000"/>
<circle cx="393.8" cy="210.6" r="2.45" fill="#000"/>
<circle cx="391.9" cy="206.2" r="2.45" fill="#000"/>
<circle cx="402.5" cy="208.1" r="2.45" fill="#000"/>
<circle cx="414.4" cy="210.0" r="2.45" fill="#000"/>
<circle cx="411.9" cy="206.2" r="2.45" fill="#000"/>
<circle cx="430.0" cy="200.0" r="2.45" fill="#000"/>
<circle cx="439.0" cy="193.8" r="2.45" fill="#000"/>
<circle cx="433.8" cy="190.6" r="2.45" fill="#000"/>
<circle cx="423.8" cy="193.1" r="2.45" fill="#000"/>
<circle cx="419.4" cy="197.5" r="2.45" fill="#000"/>
<circle cx="416.2" cy="198.1" r="2.45" fill="#000"/>
<circle cx="410.6" cy="201.9" r="2.45" fill="#000"/>
<circle cx="411.2" cy="206.2" r="2.45" fill="#000"/>
<circle cx="414.8" cy="209.6" r="2.45" fill="#000"/>
<circle cx="401.9" cy="208.1" r="2.45" fill="#000"/>
<circle cx="433.0" cy="185.6" r="2.45" fill="#000"/>
<circle cx="379.4" cy="208.8" r="2.45" fill="#000"/>
<circle cx="390.6" cy="200.0" r="2.45" fill="#000"/>
<circle cx="397.5" cy="200.0" r="2.45" fill="#000"/>
<circle cx="391.9" cy="206.0" r="2.45" fill="#000"/>
<circle cx="402.5" cy="207.8" r="2.45" fill="#000"/>
<circle cx="411.2" cy="201.9" r="2.45" fill="#000"/>
<circle cx="414.4" cy="209.8" r="2.45" fill="#000"/>
<circle cx="430.0" cy="199.6" r="2.45" fill="#000"/>
<circle cx="423.8" cy="193.8" r="2.45" fill="#000"/>
<circle cx="418.8" cy="191.2" r="2.45" fill="#000"/>
<circle cx="413.8" cy="177.5" r="2.45" fill="#000"/>
<circle cx="418.8" cy="180.0" r="2.45" fill="#000"/>
<circle cx="415.0" cy="181.2" r="2.45" fill="#000"/>
<circle cx="423.8" cy="187.5" r="2.45" fill="#000"/>
<circle cx="429.4" cy="187.5" r="2.45" fill="#000"/>
<circle cx="433.8" cy="185.0" r="2.45" fill="#000"/>
<circle cx="394.4" cy="212.5" r="2.45" fill="#000"/>
<circle cx="485.8" cy="145.0" r="2.45" fill="#000"/>
<circle cx="474.2" cy="147.5" r="2.45" fill="#000"/>
<circle cx="478.3" cy="152.5" r="2.45" fill="#000"/>
<circle cx="467.5" cy="150.8" r="2.45" fill="#000"/>
<circle cx="467.8" cy="163.0" r="2.45" fill="#000"/>
<circle cx="452.5" cy="170.8" r="2.45" fill="#000"/>
<circle cx="451.7" cy="175.0" r="2.45" fill="#000"/>
<circle cx="443.3" cy="171.7" r="2.45" fill="#000"/>
<circle cx="452.5" cy="165.0" r="2.45" fill="#000"/>
<circle cx="458.3" cy="159.2" r="2.45" fill="#000"/>
<circle cx="433.3" cy="185.0" r="2.45" fill="#000"/>
<circle cx="427.5" cy="186.3" r="2.45" fill="#000"/>
<circle cx="435.0" cy="190.3" r="2.45" fill="#000"/>
<circle cx="439.2" cy="194.2" r="2.45" fill="#000"/>
<circle cx="423.3" cy="189.2" r="2.45" fill="#000"/>
<circle cx="416.7" cy="190.0" r="2.45" fill="#000"/>
<circle cx="412.5" cy="177.5" r="2.45" fill="#000"/>
<circle cx="421.7" cy="172.5" r="2.45" fill="#000"/>
<circle cx="433.3" cy="161.7" r="2.45" fill="#000"/>
<circle cx="437.5" cy="165.0" r="2.45" fill="#000"/>
<circle cx="445.0" cy="161.7" r="2.45" fill="#000"/>
<circle cx="448.3" cy="157.5" r="2.45" fill="#000"/>
<circle cx="452.5" cy="160.0" r="2.45" fill="#000"/>
<circle cx="456.7" cy="155.0" r="2.45" fill="#000"/>
<circle cx="461.7" cy="153.3" r="2.45" fill="#000"/>
<circle cx="454.4" cy="158.8" r="2.45" fill="#000"/>
<circle cx="458.8" cy="159.4" r="2.45" fill="#000"/>
<circle cx="453.0" cy="170.6" r="2.45" fill="#000"/>
<circle cx="451.9" cy="174.4" r="2.45" fill="#000"/>
<circle cx="528.3" cy="104.7" r="2.45" fill="#000"/>
<circle cx="515.8" cy="103.0" r="2.45" fill="#000"/>
<circle cx="513.3" cy="107.5" r="2.45" fill="#000"/>
<circle cx="509.2" cy="103.3" r="2.45" fill="#000"/>
<circle cx="506.7" cy="111.7" r="2.45" fill="#000"/>
<circle cx="504.2" cy="110.0" r="2.45" fill="#000"/>
<circle cx="498.3" cy="115.8" r="2.45" fill="#000"/>
<circle cx="495.8" cy="120.8" r="2.45" fill="#000"/>
<circle cx="492.5" cy="125.0" r="2.45" fill="#000"/>
<circle cx="494.2" cy="128.3" r="2.45" fill="#000"/>
<circle cx="489.2" cy="130.0" r="2.45" fill="#000"/>
<circle cx="493.3" cy="134.2" r="2.45" fill="#000"/>
<circle cx="482.5" cy="135.0" r="2.45" fill="#000"/>
<circle cx="478.3" cy="140.8" r="2.45" fill="#000"/>
<circle cx="485.8" cy="144.2" r="2.45" fill="#000"/>
<circle cx="474.2" cy="147.5" r="2.45" fill="#000"/>
<circle cx="475.0" cy="140.0" r="2.45" fill="#000"/>
<circle cx="473.3" cy="137.5" r="2.45" fill="#000"/>
<circle cx="481.9" cy="135.0" r="2.45" fill="#000"/>
<circle cx="477.8" cy="151.9" r="2.45" fill="#000"/>
<circle cx="473.8" cy="147.8" r="2.45" fill="#000"/>
<circle cx="467.5" cy="150.6" r="2.45" fill="#000"/>
<circle cx="468.0" cy="162.0" r="2.45" fill="#000"/>
<circle cx="490.0" cy="130.0" r="2.45" fill="#000"/>
<circle cx="566.7" cy="55.0" r="2.45" fill="#000"/>
<circle cx="556.7" cy="55.0" r="2.45" fill="#000"/>
<circle cx="551.7" cy="58.0" r="2.45" fill="#000"/>
<circle cx="550.3" cy="63.3" r="2.45" fill="#000"/>
<circle cx="538.3" cy="70.0" r="2.45" fill="#000"/>
<circle cx="535.8" cy="72.5" r="2.45" fill="#000"/>
<circle cx="538.3" cy="75.8" r="2.45" fill="#000"/>
<circle cx="544.2" cy="86.3" r="2.45" fill="#000"/>
<circle cx="544.7" cy="94.7" r="2.45" fill="#000"/>
<circle cx="530.0" cy="87.5" r="2.45" fill="#000"/>
<circle cx="523.3" cy="93.7" r="2.45" fill="#000"/>
<circle cx="528.7" cy="104.2" r="2.45" fill="#000"/>
<circle cx="515.8" cy="102.5" r="2.45" fill="#000"/>
<circle cx="510.8" cy="103.3" r="2.45" fill="#000"/>
<circle cx="507.5" cy="102.5" r="2.45" fill="#000"/>
<circle cx="514.2" cy="93.3" r="2.45" fill="#000"/>
<circle cx="534.2" cy="73.7" r="2.45" fill="#000"/>
<circle cx="531.7" cy="75.8" r="2.45" fill="#000"/>
<circle cx="529.2" cy="78.0" r="2.45" fill="#000"/>
<circle cx="526.7" cy="79.7" r="2.45" fill="#000"/>
<circle cx="524.2" cy="81.7" r="2.45" fill="#000"/>
<circle cx="521.7" cy="84.2" r="2.45" fill="#000"/>
<circle cx="519.2" cy="85.8" r="2.45" fill="#000"/>
<circle cx="516.7" cy="88.0" r="2.45" fill="#000"/>
<circle cx="514.2" cy="90.0" r="2.45" fill="#000"/>
<circle cx="511.7" cy="92.0" r="2.45" fill="#000"/>
<circle cx="509.2" cy="94.2" r="2.45" fill="#000"/>
<circle cx="506.7" cy="96.3" r="2.45" fill="#000"/>
<circle cx="504.2" cy="98.3" r="2.45" fill="#000"/>
<circle cx="501.7" cy="100.3" r="2.45" fill="#000"/>
<circle cx="499.3" cy="102.2" r="2.45" fill="#000"/>
<circle cx="497.0" cy="104.1" r="2.45" fill="#000"/>
<circle cx="495.0" cy="105.9" r="2.45" fill="#000"/>
<circle cx="559.5" cy="51.2" r="2.45" fill="#000"/>
<circle cx="556.4" cy="54.0" r="2.45" fill="#000"/>
<circle cx="567.0" cy="54.4" r="2.45" fill="#000"/>
<circle cx="389.0" cy="239.6" r="2.45" fill="#000"/>
<circle cx="394.4" cy="253.4" r="2.45" fill="#000"/>
<circle cx="409.1" cy="251.5" r="2.45" fill="#000"/>
<circle cx="446.5" cy="190.0" r="2.45" fill="#000"/>
<circle cx="466.9" cy="188.8" r="2.45" fill="#000"/>
<circle cx="443.8" cy="206.9" r="2.45" fill="#000"/>
<circle cx="448.8" cy="205.0" r="2.45" fill="#000"/>
<circle cx="439.4" cy="215.6" r="2.45" fill="#000"/>
<circle cx="471.9" cy="170.6" r="2.45" fill="#000"/>
<circle cx="473.8" cy="174.4" r="2.45" fill="#000"/>
<circle cx="515.2" cy="161.5" r="2.45" fill="#000"/>
<path d="M429.3 178.2L434.7 178.2L432.0 173.6Z" fill="#e01010"/>
<path d="M422.3 171.2L427.7 171.2L425.0 166.6Z" fill="#e01010"/>
<path d="M418.0 178.4L423.4 178.4L420.7 173.8Z" fill="#e01010"/>
<path d="M415.2 177.5L420.6 177.5L417.9 172.9Z" fill="#e01010"/>
<path d="M410.2 185.3L415.6 185.3L412.9 180.7Z" fill="#e01010"/>
<path d="M410.8 184.9L416.2 184.9L413.5 180.3Z" fill="#e01010"/>
<path d="M404.9 185.9L410.3 185.9L407.6 181.3Z" fill="#e01010"/>
<path d="M420.4 176.4L425.8 176.4L423.1 171.8Z" fill="#e01010"/>
<path d="M438.5 165.1L443.9 165.1L441.2 160.5Z" fill="#e01010"/>
<path d="M431.3 162.9L436.7 162.9L434.0 158.3Z" fill="#e01010"/>
<path d="M442.7 159.1L448.1 159.1L445.4 154.5Z" fill="#e01010"/>
<path d="M440.4 161.6L445.8 161.6L443.1 157.0Z" fill="#e01010"/>
<path d="M444.9 154.1L450.3 154.1L447.6 149.5Z" fill="#e01010"/>
<path d="M440.7 157.7L446.1 157.7L443.4 153.1Z" fill="#e01010"/>
<path d="M439.0 163.4L444.4 163.4L441.7 158.8Z" fill="#e01010"/>
<path d="M430.4 163.7L435.8 163.7L433.1 159.1Z" fill="#e01010"/>
<path d="M437.6 165.6L443.0 165.6L440.3 161.0Z" fill="#e01010"/>
<path d="M437.8 161.2L443.2 161.2L440.5 156.6Z" fill="#e01010"/>
<path d="M437.4 158.6L442.8 158.6L440.1 154.0Z" fill="#e01010"/>
<path d="M428.8 167.3L434.2 167.3L431.5 162.7Z" fill="#e01010"/>
<path d="M440.9 155.7L446.3 155.7L443.6 151.1Z" fill="#e01010"/>
<path d="M426.5 167.1L431.9 167.1L429.2 162.5Z" fill="#e01010"/>
<path d="M425.7 169.3L431.1 169.3L428.4 164.7Z" fill="#e01010"/>
<path d="M440.4 165.0L445.8 165.0L443.1 160.4Z" fill="#e01010"/>
<path d="M432.1 165.0L437.5 165.0L434.8 160.4Z" fill="#e01010"/>
<path d="M430.9 165.3L436.3 165.3L433.6 160.7Z" fill="#e01010"/>
<path d="M442.3 158.9L447.7 158.9L445.0 154.3Z" fill="#e01010"/>
<path d="M429.4 164.7L434.8 164.7L432.1 160.1Z" fill="#e01010"/>
<path d="M443.7 160.3L449.1 160.3L446.4 155.7Z" fill="#e01010"/>
<path d="M441.3 155.7L446.7 155.7L444.0 151.1Z" fill="#e01010"/>
<path d="M462.4 145.9L467.8 145.9L465.1 141.3Z" fill="#e01010"/>
<path d="M463.8 145.2L469.2 145.2L466.5 140.6Z" fill="#e01010"/>
<path d="M453.4 154.5L458.8 154.5L456.1 149.9Z" fill="#e01010"/>
<path d="M446.7 152.2L452.1 152.2L449.4 147.6Z" fill="#e01010"/>
<path d="M448.5 156.0L453.9 156.0L451.2 151.4Z" fill="#e01010"/>
<path d="M466.4 143.4L471.8 143.4L469.1 138.8Z" fill="#e01010"/>
<path d="M469.1 140.7L474.5 140.7L471.8 136.1Z" fill="#e01010"/>
<path d="M462.8 146.7L468.2 146.7L465.5 142.1Z" fill="#e01010"/>
<path d="M463.6 137.0L469.0 137.0L466.3 132.4Z" fill="#e01010"/>
<path d="M469.4 132.4L474.8 132.4L472.1 127.8Z" fill="#e01010"/>
<path d="M448.7 147.6L454.1 147.6L451.4 143.0Z" fill="#e01010"/>
<path d="M455.9 142.3L461.3 142.3L458.6 137.7Z" fill="#e01010"/>
<path d="M472.3 138.0L477.7 138.0L475.0 133.4Z" fill="#e01010"/>
<path d="M449.3 147.2L454.7 147.2L452.0 142.6Z" fill="#e01010"/>
<path d="M457.3 140.8L462.7 140.8L460.0 136.2Z" fill="#e01010"/>
<path d="M461.5 144.9L466.9 144.9L464.2 140.3Z" fill="#e01010"/>
<path d="M451.6 148.0L457.0 148.0L454.3 143.4Z" fill="#e01010"/>
<path d="M467.9 134.4L473.3 134.4L470.6 129.8Z" fill="#e01010"/>
<path d="M457.1 149.9L462.5 149.9L459.8 145.3Z" fill="#e01010"/>
<path d="M468.9 140.0L474.3 140.0L471.6 135.4Z" fill="#e01010"/>
<path d="M462.4 138.7L467.8 138.7L465.1 134.1Z" fill="#e01010"/>
<path d="M465.4 141.9L470.8 141.9L468.1 137.3Z" fill="#e01010"/>
<path d="M460.4 138.8L465.8 138.8L463.1 134.2Z" fill="#e01010"/>
<path d="M452.6 147.1L458.0 147.1L455.3 142.5Z" fill="#e01010"/>
<path d="M465.4 138.0L470.8 138.0L468.1 133.4Z" fill="#e01010"/>
<path d="M461.8 144.9L467.2 144.9L464.5 140.3Z" fill="#e01010"/>
<path d="M449.3 152.6L454.7 152.6L452.0 148.0Z" fill="#e01010"/>
<path d="M454.4 147.3L459.8 147.3L457.1 142.7Z" fill="#e01010"/>
<path d="M485.7 116.5L491.1 116.5L488.4 111.9Z" fill="#e01010"/>
<path d="M487.7 114.1L493.1 114.1L490.4 109.5Z" fill="#e01010"/>
<path d="M481.1 122.2L486.5 122.2L483.8 117.6Z" fill="#e01010"/>
<path d="M474.7 127.8L480.1 127.8L477.4 123.2Z" fill="#e01010"/>
<path d="M479.0 123.4L484.4 123.4L481.7 118.8Z" fill="#e01010"/>
<path d="M483.0 118.0L488.4 118.0L485.7 113.4Z" fill="#e01010"/>
<path d="M478.4 126.4L483.8 126.4L481.1 121.8Z" fill="#e01010"/>
<path d="M474.0 130.9L479.4 130.9L476.7 126.3Z" fill="#e01010"/>
<path d="M493.6 110.9L499.0 110.9L496.3 106.3Z" fill="#e01010"/>
<path d="M492.5 110.8L497.9 110.8L495.2 106.2Z" fill="#e01010"/>
<path d="M496.8 105.8L502.2 105.8L499.5 101.2Z" fill="#e01010"/>
<path d="M503.1 101.9L508.5 101.9L505.8 97.3Z" fill="#e01010"/>
<path d="M376.3 212.6L381.7 212.6L379.0 208.0Z" fill="#e01010"/>
<path d="M388.5 215.5L393.9 215.5L391.2 210.9Z" fill="#e01010"/>
<path d="M396.1 211.4L401.5 211.4L398.8 206.8Z" fill="#e01010"/>
<path d="M400.4 226.8L405.8 226.8L403.1 222.2Z" fill="#e01010"/>
<path d="M388.5 236.4L393.9 236.4L391.2 231.8Z" fill="#e01010"/>
<path d="M374.8 245.4L380.2 245.4L377.5 240.8Z" fill="#e01010"/>
<path d="M423.5 208.0L428.9 208.0L426.2 203.4Z" fill="#e01010"/>
<path d="M423.2 207.6L428.6 207.6L425.9 203.0Z" fill="#e01010"/>
<path d="M413.5 203.9L418.9 203.9L416.2 199.3Z" fill="#e01010"/>
<path d="M411.7 197.6L417.1 197.6L414.4 193.0Z" fill="#e01010"/>
<path d="M404.8 195.1L410.2 195.1L407.5 190.5Z" fill="#e01010"/>
<path d="M402.3 192.6L407.7 192.6L405.0 188.0Z" fill="#e01010"/>
<path d="M406.7 189.5L412.1 189.5L409.4 184.9Z" fill="#e01010"/>
<path d="M398.5 194.5L403.9 194.5L401.2 189.9Z" fill="#e01010"/>
<path d="M397.9 206.4L403.3 206.4L400.6 201.8Z" fill="#e01010"/>
<path d="M416.1 192.0L421.5 192.0L418.8 187.4Z" fill="#e01010"/>
<path d="M412.3 188.9L417.7 188.9L415.0 184.3Z" fill="#e01010"/>
<path d="M425.4 193.2L430.8 193.2L428.1 188.6Z" fill="#e01010"/>
<path d="M434.8 193.2L440.2 193.2L437.5 188.6Z" fill="#e01010"/>
<path d="M439.8 188.2L445.2 188.2L442.5 183.6Z" fill="#e01010"/>
<path d="M376.1 212.6L381.5 212.6L378.8 208.0Z" fill="#e01010"/>
<path d="M391.1 200.1L396.5 200.1L393.8 195.5Z" fill="#e01010"/>
<path d="M390.4 203.9L395.8 203.9L393.1 199.3Z" fill="#e01010"/>
<path d="M392.9 202.6L398.3 202.6L395.6 198.0Z" fill="#e01010"/>
<path d="M398.5 206.4L403.9 206.4L401.2 201.8Z" fill="#e01010"/>
<path d="M396.7 210.8L402.1 210.8L399.4 206.2Z" fill="#e01010"/>
<path d="M388.5 213.9L393.9 213.9L391.2 209.3Z" fill="#e01010"/>
<path d="M397.3 194.5L402.7 194.5L400.0 189.9Z" fill="#e01010"/>
<path d="M402.9 192.6L408.3 192.6L405.6 188.0Z" fill="#e01010"/>
<path d="M404.8 195.8L410.2 195.8L407.5 191.2Z" fill="#e01010"/>
<path d="M406.1 188.9L411.5 188.9L408.8 184.3Z" fill="#e01010"/>
<path d="M411.7 197.6L417.1 197.6L414.4 193.0Z" fill="#e01010"/>
<path d="M411.1 202.6L416.5 202.6L413.8 198.0Z" fill="#e01010"/>
<path d="M413.5 203.9L418.9 203.9L416.2 199.3Z" fill="#e01010"/>
<path d="M423.5 207.0L428.9 207.0L426.2 202.4Z" fill="#e01010"/>
<path d="M411.1 186.4L416.5 186.4L413.8 181.8Z" fill="#e01010"/>
<path d="M414.8 188.9L420.2 188.9L417.5 184.3Z" fill="#e01010"/>
<path d="M412.3 189.5L417.7 189.5L415.0 184.9Z" fill="#e01010"/>
<path d="M416.1 192.0L421.5 192.0L418.8 187.4Z" fill="#e01010"/>
<path d="M419.8 184.5L425.2 184.5L422.5 179.9Z" fill="#e01010"/>
<path d="M422.3 182.0L427.7 182.0L425.0 177.4Z" fill="#e01010"/>
<path d="M424.8 180.1L430.2 180.1L427.5 175.5Z" fill="#e01010"/>
<path d="M427.3 178.9L432.7 178.9L430.0 174.3Z" fill="#e01010"/>
<path d="M425.4 191.4L430.8 191.4L428.1 186.8Z" fill="#e01010"/>
<path d="M429.8 190.8L435.2 190.8L432.5 186.2Z" fill="#e01010"/>
<path d="M431.1 192.6L436.5 192.6L433.8 188.0Z" fill="#e01010"/>
<path d="M473.1 157.8L478.5 157.8L475.8 153.2Z" fill="#e01010"/>
<path d="M461.0 157.0L466.4 157.0L463.7 152.4Z" fill="#e01010"/>
<path d="M458.1 164.5L463.5 164.5L460.8 159.9Z" fill="#e01010"/>
<path d="M463.1 169.5L468.5 169.5L465.8 164.9Z" fill="#e01010"/>
<path d="M445.6 170.3L451.0 170.3L448.3 165.7Z" fill="#e01010"/>
<path d="M437.3 176.2L442.7 176.2L440.0 171.6Z" fill="#e01010"/>
<path d="M435.6 184.5L441.0 184.5L438.3 179.9Z" fill="#e01010"/>
<path d="M440.6 187.0L446.0 187.0L443.3 182.4Z" fill="#e01010"/>
<path d="M396.5 192.0L401.9 192.0L399.2 187.4Z" fill="#e01010"/>
<path d="M404.8 187.8L410.2 187.8L407.5 183.2Z" fill="#e01010"/>
<path d="M407.3 191.2L412.7 191.2L410.0 186.6Z" fill="#e01010"/>
<path d="M402.3 194.5L407.7 194.5L405.0 189.9Z" fill="#e01010"/>
<path d="M414.0 177.0L419.4 177.0L416.7 172.4Z" fill="#e01010"/>
<path d="M412.3 187.0L417.7 187.0L415.0 182.4Z" fill="#e01010"/>
<path d="M417.3 182.8L422.7 182.8L420.0 178.2Z" fill="#e01010"/>
<path d="M419.8 186.2L425.2 186.2L422.5 181.6Z" fill="#e01010"/>
<path d="M423.1 168.7L428.5 168.7L425.8 164.1Z" fill="#e01010"/>
<path d="M425.6 177.0L431.0 177.0L428.3 172.4Z" fill="#e01010"/>
<path d="M428.1 177.0L433.5 177.0L430.8 172.4Z" fill="#e01010"/>
<path d="M430.6 172.0L436.0 172.0L433.3 167.4Z" fill="#e01010"/>
<path d="M437.3 158.7L442.7 158.7L440.0 154.1Z" fill="#e01010"/>
<path d="M442.3 156.2L447.7 156.2L445.0 151.6Z" fill="#e01010"/>
<path d="M447.3 152.0L452.7 152.0L450.0 147.4Z" fill="#e01010"/>
<path d="M450.6 153.7L456.0 153.7L453.3 149.1Z" fill="#e01010"/>
<path d="M445.8 148.9L451.2 148.9L448.5 144.3Z" fill="#e01010"/>
<path d="M454.0 147.8L459.4 147.8L456.7 143.2Z" fill="#e01010"/>
<path d="M473.5 157.0L478.9 157.0L476.2 152.4Z" fill="#e01010"/>
<path d="M460.4 156.4L465.8 156.4L463.1 151.8Z" fill="#e01010"/>
<path d="M458.3 164.5L463.7 164.5L461.0 159.9Z" fill="#e01010"/>
<path d="M463.5 170.1L468.9 170.1L466.2 165.5Z" fill="#e01010"/>
<path d="M445.4 170.1L450.8 170.1L448.1 165.5Z" fill="#e01010"/>
<path d="M451.1 153.2L456.5 153.2L453.8 148.6Z" fill="#e01010"/>
<path d="M499.8 103.7L505.2 103.7L502.5 99.1Z" fill="#e01010"/>
<path d="M502.3 108.7L507.7 108.7L505.0 104.1Z" fill="#e01010"/>
<path d="M495.6 111.2L501.0 111.2L498.3 106.6Z" fill="#e01010"/>
<path d="M489.0 118.7L494.4 118.7L491.7 114.1Z" fill="#e01010"/>
<path d="M484.0 117.0L489.4 117.0L486.7 112.4Z" fill="#e01010"/>
<path d="M481.5 120.3L486.9 120.3L484.2 115.7Z" fill="#e01010"/>
<path d="M478.1 123.7L483.5 123.7L480.8 119.1Z" fill="#e01010"/>
<path d="M484.8 127.0L490.2 127.0L487.5 122.4Z" fill="#e01010"/>
<path d="M479.0 130.3L484.4 130.3L481.7 125.7Z" fill="#e01010"/>
<path d="M483.1 133.7L488.5 133.7L485.8 129.1Z" fill="#e01010"/>
<path d="M475.6 128.7L481.0 128.7L478.3 124.1Z" fill="#e01010"/>
<path d="M472.3 127.0L477.7 127.0L475.0 122.4Z" fill="#e01010"/>
<path d="M469.0 130.3L474.4 130.3L471.7 125.7Z" fill="#e01010"/>
<path d="M467.3 133.7L472.7 133.7L470.0 129.1Z" fill="#e01010"/>
<path d="M467.3 141.2L472.7 141.2L470.0 136.6Z" fill="#e01010"/>
<path d="M459.0 139.5L464.4 139.5L461.7 134.9Z" fill="#e01010"/>
<path d="M455.6 142.8L461.0 142.8L458.3 138.2Z" fill="#e01010"/>
<path d="M452.3 146.2L457.7 146.2L455.0 141.6Z" fill="#e01010"/>
<path d="M462.3 145.3L467.7 145.3L465.0 140.7Z" fill="#e01010"/>
<path d="M465.6 150.3L471.0 150.3L468.3 145.7Z" fill="#e01010"/>
<path d="M476.1 143.9L481.5 143.9L478.8 139.3Z" fill="#e01010"/>
<path d="M481.7 134.5L487.1 134.5L484.4 129.9Z" fill="#e01010"/>
<path d="M527.7 79.4L533.1 79.4L530.4 74.8Z" fill="#e01010"/>
<path d="M528.1 83.7L533.5 83.7L530.8 79.1Z" fill="#e01010"/>
<path d="M523.3 83.1L528.7 83.1L526.0 78.5Z" fill="#e01010"/>
<path d="M519.8 90.3L525.2 90.3L522.5 85.7Z" fill="#e01010"/>
<path d="M517.3 92.0L522.7 92.0L520.0 87.4Z" fill="#e01010"/>
<path d="M500.3 102.6L505.7 102.6L503.0 98.0Z" fill="#e01010"/>
<path d="M503.1 106.2L508.5 106.2L505.8 101.6Z" fill="#e01010"/>
<path d="M418.3 177.0L423.7 177.0L421.0 172.4Z" fill="#e01010"/>
<path d="M421.3 174.5L426.7 174.5L424.0 169.9Z" fill="#e01010"/>
<path d="M423.8 172.0L429.2 172.0L426.5 167.4Z" fill="#e01010"/>
<path d="M426.3 170.0L431.7 170.0L429.0 165.4Z" fill="#e01010"/>
<path d="M428.3 174.0L433.7 174.0L431.0 169.4Z" fill="#e01010"/>
<path d="M425.3 178.5L430.7 178.5L428.0 173.9Z" fill="#e01010"/>
<path d="M422.3 181.0L427.7 181.0L425.0 176.4Z" fill="#e01010"/>
<path d="M429.3 168.0L434.7 168.0L432.0 163.4Z" fill="#e01010"/>
<path d="M431.8 171.0L437.2 171.0L434.5 166.4Z" fill="#e01010"/>
<path d="M430.3 177.0L435.7 177.0L433.0 172.4Z" fill="#e01010"/>
<path d="M433.3 174.0L438.7 174.0L436.0 169.4Z" fill="#e01010"/>
<path d="M427.3 182.0L432.7 182.0L430.0 177.4Z" fill="#e01010"/>
<path d="M433.8 167.0L439.2 167.0L436.5 162.4Z" fill="#e01010"/>
<path d="M419.8 183.0L425.2 183.0L422.5 178.4Z" fill="#e01010"/>
<path d="M399.4 267.2L404.8 267.2L402.1 262.6Z" fill="#e01010"/>
<path d="M455.4 205.1L460.8 205.1L458.1 200.5Z" fill="#e01010"/>
<path d="M468.6 210.8L473.9 210.8L471.2 206.2Z" fill="#e01010"/>
<path d="M469.8 187.0L475.2 187.0L472.5 182.4Z" fill="#e01010"/>
<path d="M478.6 182.6L483.9 182.6L481.2 178.0Z" fill="#e01010"/>
<rect x="385.6" y="236.2" width="6.8" height="6.8" fill="none" stroke="#eaa050" stroke-width="0.9"/>
<rect x="391.0" y="250.0" width="6.8" height="6.8" fill="none" stroke="#eaa050" stroke-width="0.9"/>
<rect x="405.7" y="248.1" width="6.8" height="6.8" fill="none" stroke="#eaa050" stroke-width="0.9"/>
<rect x="443.1" y="186.6" width="6.8" height="6.8" fill="none" stroke="#eaa050" stroke-width="0.9"/>
<rect x="463.5" y="185.3" width="6.8" height="6.8" fill="none" stroke="#eaa050" stroke-width="0.9"/>
<rect x="440.4" y="203.5" width="6.8" height="6.8" fill="none" stroke="#eaa050" stroke-width="0.9"/>
<rect x="445.4" y="201.6" width="6.8" height="6.8" fill="none" stroke="#eaa050" stroke-width="0.9"/>
<rect x="436.0" y="212.2" width="6.8" height="6.8" fill="none" stroke="#eaa050" stroke-width="0.9"/>
<rect x="468.5" y="167.2" width="6.8" height="6.8" fill="none" stroke="#eaa050" stroke-width="0.9"/>
<rect x="470.4" y="171.0" width="6.8" height="6.8" fill="none" stroke="#eaa050" stroke-width="0.9"/>
<rect x="511.8" y="158.1" width="6.8" height="6.8" fill="none" stroke="#eaa050" stroke-width="0.9"/>
<rect x="398.7" y="261.9" width="6.8" height="6.8" fill="none" stroke="#eaa050" stroke-width="0.9"/>
<rect x="454.7" y="199.7" width="6.8" height="6.8" fill="none" stroke="#eaa050" stroke-width="0.9"/>
<rect x="467.9" y="205.3" width="6.8" height="6.8" fill="none" stroke="#eaa050" stroke-width="0.9"/>
<rect x="469.1" y="181.6" width="6.8" height="6.8" fill="none" stroke="#eaa050" stroke-width="0.9"/>
<rect x="477.9" y="177.2" width="6.8" height="6.8" fill="none" stroke="#eaa050" stroke-width="0.9"/>
<line x1="342.20" y1="235.45" x2="599.20" y2="17.15" stroke="#bf1a1f" stroke-width="1.05"/>
<line x1="560.65" y1="231.16" x2="560.65" y2="261.56" stroke="#000" stroke-width="0.95"/>
<circle cx="560.65" cy="246.36" r="1.7" fill="#000"/>
<rect x="342.20" y="17.15" width="257.00" height="256.5" fill="none" stroke="#111" stroke-width="1.25"/>
<path d="M342.20 273.65v-2.9M342.20 17.15v2.9M355.05 273.65v-2.9M355.05 17.15v2.9M367.90 273.65v-2.9M367.90 17.15v2.9M380.75 273.65v-2.9M380.75 17.15v2.9M393.60 273.65v-5.9M393.60 17.15v5.9M406.45 273.65v-2.9M406.45 17.15v2.9M419.30 273.65v-2.9M419.30 17.15v2.9M432.15 273.65v-2.9M432.15 17.15v2.9M445.00 273.65v-2.9M445.00 17.15v2.9M457.85 273.65v-5.9M457.85 17.15v5.9M470.70 273.65v-2.9M470.70 17.15v2.9M483.55 273.65v-2.9M483.55 17.15v2.9M496.40 273.65v-2.9M496.40 17.15v2.9M509.25 273.65v-2.9M509.25 17.15v2.9M522.10 273.65v-5.9M522.10 17.15v5.9M534.95 273.65v-2.9M534.95 17.15v2.9M547.80 273.65v-2.9M547.80 17.15v2.9M560.65 273.65v-2.9M560.65 17.15v2.9M573.50 273.65v-2.9M573.50 17.15v2.9M586.35 273.65v-5.9M586.35 17.15v5.9M599.20 273.65v-2.9M599.20 17.15v2.9M342.20 268.19h2.9M599.20 268.19h-2.9M342.20 257.28h2.9M599.20 257.28h-2.9M342.20 246.36h5.9M599.20 246.36h-5.9M342.20 235.45h2.9M599.20 235.45h-2.9M342.20 224.53h2.9M599.20 224.53h-2.9M342.20 213.62h2.9M599.20 213.62h-2.9M342.20 202.70h2.9M599.20 202.70h-2.9M342.20 191.79h5.9M599.20 191.79h-5.9M342.20 180.87h2.9M599.20 180.87h-2.9M342.20 169.96h2.9M599.20 169.96h-2.9M342.20 159.04h2.9M599.20 159.04h-2.9M342.20 148.13h2.9M599.20 148.13h-2.9M342.20 137.21h5.9M599.20 137.21h-5.9M342.20 126.30h2.9M599.20 126.30h-2.9M342.20 115.38h2.9M599.20 115.38h-2.9M342.20 104.47h2.9M599.20 104.47h-2.9M342.20 93.55h2.9M599.20 93.55h-2.9M342.20 82.64h5.9M599.20 82.64h-5.9M342.20 71.72h2.9M599.20 71.72h-2.9M342.20 60.81h2.9M599.20 60.81h-2.9M342.20 49.89h2.9M599.20 49.89h-2.9M342.20 38.98h2.9M599.20 38.98h-2.9M342.20 28.06h5.9M599.20 28.06h-5.9M342.20 17.15h2.9M599.20 17.15h-2.9" stroke="#111" stroke-width="1.1" fill="none"/>
<text x="387.55" y="285.3" font-size="9.8" textLength="11.3" lengthAdjust="spacingAndGlyphs" stroke="#000" stroke-width="0.4" font-family="Liberation Sans, sans-serif">44</text>
<text x="451.80" y="285.3" font-size="9.8" textLength="11.3" lengthAdjust="spacingAndGlyphs" stroke="#000" stroke-width="0.4" font-family="Liberation Sans, sans-serif">45</text>
<text x="516.05" y="285.3" font-size="9.8" textLength="11.3" lengthAdjust="spacingAndGlyphs" stroke="#000" stroke-width="0.4" font-family="Liberation Sans, sans-serif">46</text>
<text x="580.30" y="285.3" font-size="9.8" textLength="11.3" lengthAdjust="spacingAndGlyphs" stroke="#000" stroke-width="0.4" font-family="Liberation Sans, sans-serif">47</text>
<text x="325.30" y="250.16" font-size="9.8" textLength="11.2" lengthAdjust="spacingAndGlyphs" stroke="#000" stroke-width="0.4" font-family="Liberation Sans, sans-serif">43</text>
<text x="325.30" y="195.59" font-size="9.8" textLength="11.2" lengthAdjust="spacingAndGlyphs" stroke="#000" stroke-width="0.4" font-family="Liberation Sans, sans-serif">44</text>
<text x="325.30" y="141.01" font-size="9.8" textLength="11.2" lengthAdjust="spacingAndGlyphs" stroke="#000" stroke-width="0.4" font-family="Liberation Sans, sans-serif">45</text>
<text x="325.30" y="86.44" font-size="9.8" textLength="11.2" lengthAdjust="spacingAndGlyphs" stroke="#000" stroke-width="0.4" font-family="Liberation Sans, sans-serif">46</text>
<text x="325.30" y="31.86" font-size="9.8" textLength="11.2" lengthAdjust="spacingAndGlyphs" stroke="#000" stroke-width="0.4" font-family="Liberation Sans, sans-serif">47</text>
<text x="89.30" y="302.00" font-size="13.2" textLength="18.90" lengthAdjust="spacingAndGlyphs" stroke="#000" stroke-width="0.22"  font-family="Liberation Serif, serif">log</text>
<text x="113.75" y="302.00" font-size="13.2" textLength="65.75" lengthAdjust="spacingAndGlyphs" stroke="#000" stroke-width="0.22"  font-family="Liberation Serif, serif">L(bol,obs)</text>
<text x="188.50" y="302.00" font-size="13.2" textLength="25.80" lengthAdjust="spacingAndGlyphs" stroke="#000" stroke-width="0.22"  font-family="Liberation Serif, serif">[erg</text>
<text x="221.80" y="302.00" font-size="13.2" textLength="5.70" lengthAdjust="spacingAndGlyphs" stroke="#000" stroke-width="0.22"  font-family="Liberation Serif, serif">s</text>
<text x="240.25" y="302.00" font-size="13.2" textLength="4.50" lengthAdjust="spacingAndGlyphs" stroke="#000" stroke-width="0.22"  font-family="Liberation Serif, serif">]</text>
<text x="381.20" y="302.00" font-size="13.2" textLength="18.30" lengthAdjust="spacingAndGlyphs" stroke="#000" stroke-width="0.22"  font-family="Liberation Serif, serif">log</text>
<text x="408.50" y="302.00" font-size="13.2" textLength="96.00" lengthAdjust="spacingAndGlyphs" stroke="#000" stroke-width="0.22"  font-family="Liberation Serif, serif">L(opt−UV,obs)</text>
<text x="513.20" y="302.00" font-size="13.2" textLength="26.10" lengthAdjust="spacingAndGlyphs" stroke="#000" stroke-width="0.22"  font-family="Liberation Serif, serif">[erg</text>
<text x="547.25" y="302.00" font-size="13.2" textLength="6.00" lengthAdjust="spacingAndGlyphs" stroke="#000" stroke-width="0.22"  font-family="Liberation Serif, serif">s</text>
<text x="566.00" y="302.00" font-size="13.2" textLength="4.20" lengthAdjust="spacingAndGlyphs" stroke="#000" stroke-width="0.22"  font-family="Liberation Serif, serif">]</text>
<text transform="translate(11.40 262.50) rotate(-90)" font-size="13.2" textLength="18.10" lengthAdjust="spacingAndGlyphs" stroke="#000" stroke-width="0.22"  font-family="Liberation Serif, serif">log</text>
<text transform="translate(11.40 239.50) rotate(-90)" font-size="13.2" textLength="39.50" lengthAdjust="spacingAndGlyphs" stroke="#000" stroke-width="0.22"  font-family="Liberation Serif, serif">L(bol)</text>
<text transform="translate(11.40 192.20) rotate(-90)" font-size="13.2" textLength="69.10" lengthAdjust="spacingAndGlyphs" stroke="#000" stroke-width="0.22"  font-family="Liberation Serif, serif">(reddened</text>
<text transform="translate(11.40 114.10) rotate(-90)" font-size="13.2" textLength="32.90" lengthAdjust="spacingAndGlyphs" stroke="#000" stroke-width="0.22"  font-family="Liberation Serif, serif">disk)</text>
<text transform="translate(11.40 72.20) rotate(-90)" font-size="13.2" textLength="26.90" lengthAdjust="spacingAndGlyphs" stroke="#000" stroke-width="0.22"  font-family="Liberation Serif, serif">[erg</text>
<text transform="translate(11.40 39.00) rotate(-90)" font-size="13.2" textLength="5.90" lengthAdjust="spacingAndGlyphs" stroke="#000" stroke-width="0.22"  font-family="Liberation Serif, serif">s</text>
<text transform="translate(11.40 19.40) rotate(-90)" font-size="13.2" textLength="3.50" lengthAdjust="spacingAndGlyphs" stroke="#000" stroke-width="0.22"  font-family="Liberation Serif, serif">]</text>
<text transform="translate(320.40 278.50) rotate(-90)" font-size="13.2" textLength="18.40" lengthAdjust="spacingAndGlyphs" stroke="#000" stroke-width="0.22"  font-family="Liberation Serif, serif">log</text>
<text transform="translate(320.40 254.60) rotate(-90)" font-size="13.2" textLength="69.50" lengthAdjust="spacingAndGlyphs" stroke="#000" stroke-width="0.22"  font-family="Liberation Serif, serif">L(opt−UV)</text>
<text transform="translate(320.40 178.20) rotate(-90)" font-size="13.2" textLength="70.60" lengthAdjust="spacingAndGlyphs" stroke="#000" stroke-width="0.22"  font-family="Liberation Serif, serif">(reddened</text>
<text transform="translate(320.40 99.60) rotate(-90)" font-size="13.2" textLength="33.50" lengthAdjust="spacingAndGlyphs" stroke="#000" stroke-width="0.22"  font-family="Liberation Serif, serif">disk)</text>
<text transform="translate(320.40 57.40) rotate(-90)" font-size="13.2" textLength="27.00" lengthAdjust="spacingAndGlyphs" stroke="#000" stroke-width="0.22"  font-family="Liberation Serif, serif">[erg</text>
<text transform="translate(320.40 24.50) rotate(-90)" font-size="13.2" textLength="5.90" lengthAdjust="spacingAndGlyphs" stroke="#000" stroke-width="0.22"  font-family="Liberation Serif, serif">s</text>
<text transform="translate(320.40 4.30) rotate(-90)" font-size="13.2" textLength="3.30" lengthAdjust="spacingAndGlyphs" stroke="#000" stroke-width="0.22"  font-family="Liberation Serif, serif">]</text>
<rect x="229.30" y="297.10" width="4.1" height="1.15" fill="#000"/>
<text x="234.30" y="299.50" font-size="6.8" textLength="4.6" lengthAdjust="spacingAndGlyphs" font-weight="bold" font-family="Liberation Serif, serif">1</text>
<rect x="554.75" y="297.10" width="4.1" height="1.15" fill="#000"/>
<text x="559.75" y="299.50" font-size="6.8" textLength="4.6" lengthAdjust="spacingAndGlyphs" font-weight="bold" font-family="Liberation Serif, serif">1</text>
<rect x="6.50" y="24.90" width="1.15" height="4.1" fill="#000"/>
<text transform="translate(8.90 24.00) rotate(-90)" font-size="6.8" textLength="4.6" lengthAdjust="spacingAndGlyphs" font-weight="bold" font-family="Liberation Serif, serif">1</text>
<rect x="315.50" y="10.00" width="1.15" height="4.1" fill="#000"/>
<text transform="translate(317.90 9.10) rotate(-90)" font-size="6.8" textLength="4.6" lengthAdjust="spacingAndGlyphs" font-weight="bold" font-family="Liberation Serif, serif">1</text>
</svg>
</body></html>
